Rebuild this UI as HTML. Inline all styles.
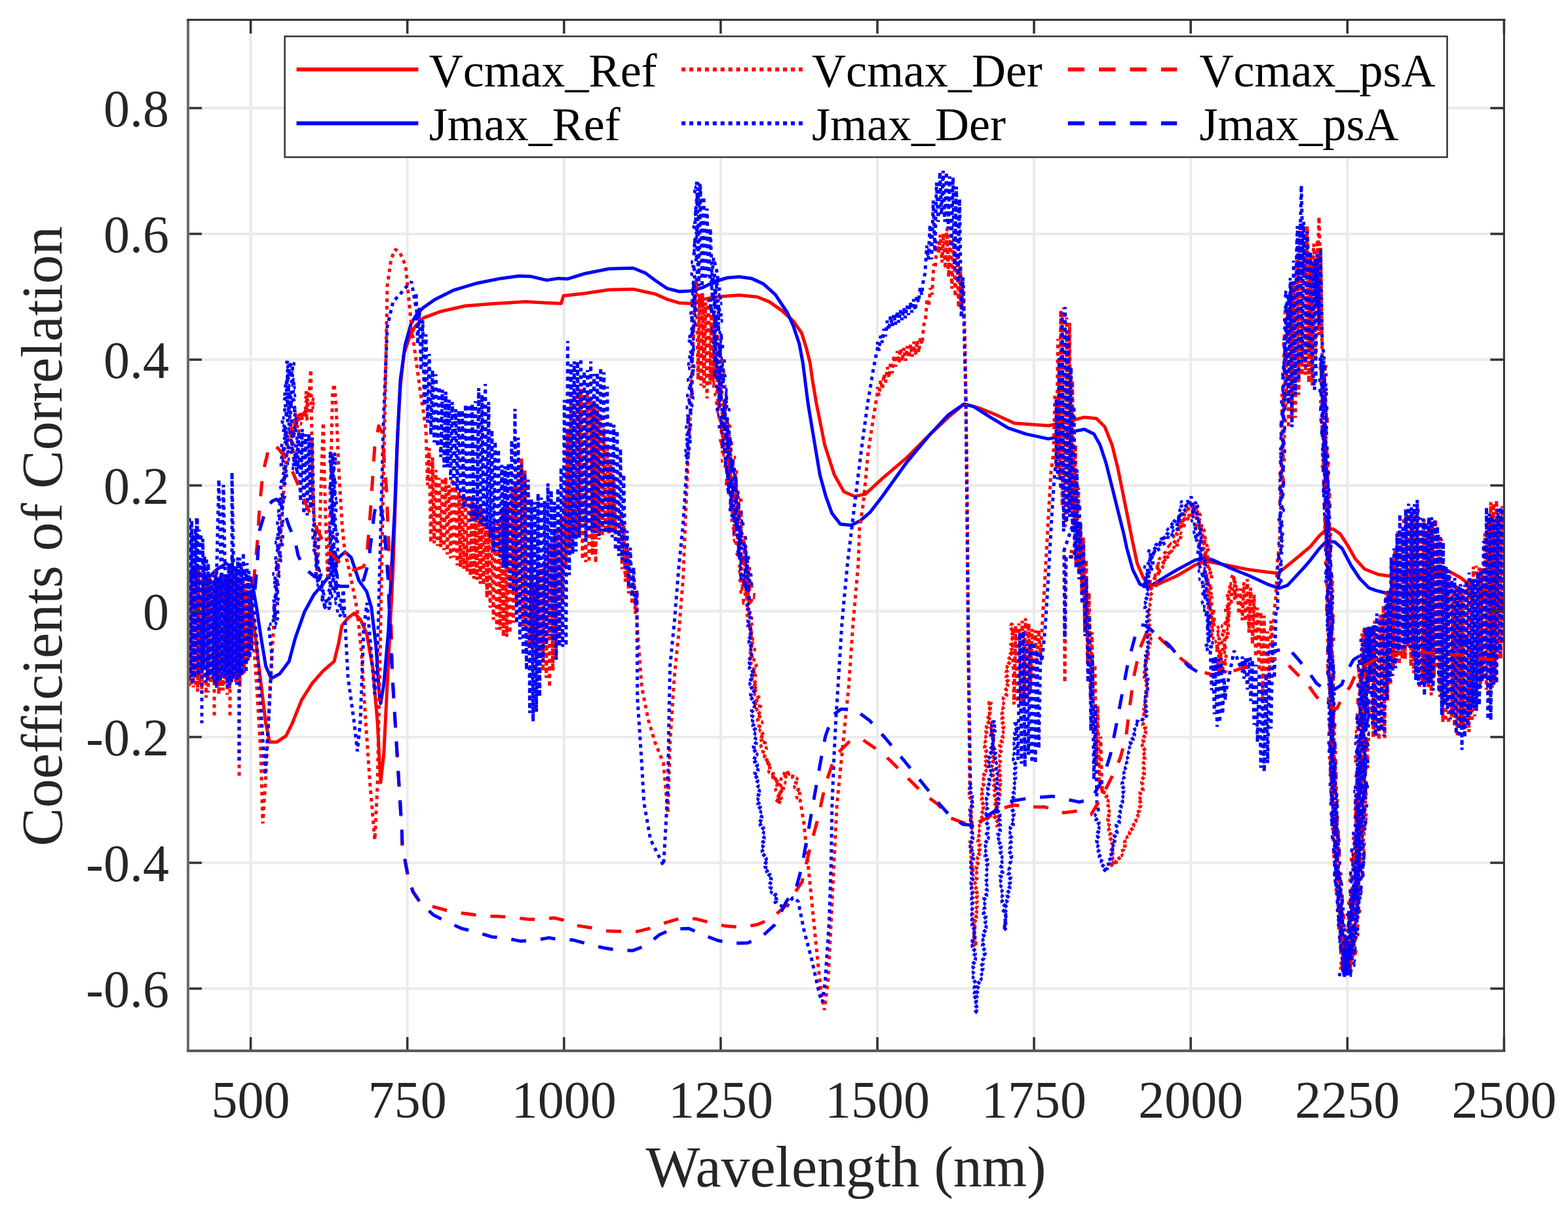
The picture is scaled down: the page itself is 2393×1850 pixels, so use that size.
<!DOCTYPE html>
<html><head><meta charset="utf-8"><title>Coefficients of Correlation</title><style>html,body{margin:0;padding:0;background:#fff;}body{width:2393px;height:1850px;overflow:hidden;}svg{display:block;}</style></head><body>
<svg width="2393" height="1850" viewBox="0 0 2393 1850">
<rect x="0" y="0" width="2393" height="1850" fill="#ffffff"/>
<path d="M382.6 30.3V1604.0M621.7 30.3V1604.0M860.8 30.3V1604.0M1099.9 30.3V1604.0M1339.0 30.3V1604.0M1578.1 30.3V1604.0M1817.2 30.3V1604.0M2056.3 30.3V1604.0M287.0 165.0H2295.4M287.0 357.0H2295.4M287.0 549.0H2295.4M287.0 741.0H2295.4M287.0 933.0H2295.4M287.0 1125.0H2295.4M287.0 1317.0H2295.4M287.0 1509.0H2295.4" stroke="#ebebeb" stroke-width="4" fill="none"/>
<defs><clipPath id="pc"><rect x="287" y="30.3" width="2008.4" height="1573.7"/></clipPath></defs>
<g clip-path="url(#pc)" fill="none" stroke-linejoin="round">
<path d="M287.0 905.0L300.0 930.0L315.0 900.0L330.0 915.0L345.0 905.0L360.0 900.0L372.0 905.0L384.3 926.6L391.4 985.9L398.5 1045.1L405.6 1104.4L411.5 1132.8L422.2 1132.8L436.4 1123.3L445.9 1104.4L460.1 1068.8L476.7 1042.7L493.3 1023.8L509.9 1009.6L517.0 981.1L521.7 955.1L531.2 943.2L540.7 936.1L550.1 945.6L559.6 966.9L569.1 1021.4L576.2 1104.4L579.8 1175.5L580.9 1194.4L585.7 1151.8L590.4 1057.0L595.2 962.2L599.9 867.4L603.5 760.0L607.0 660.0L611.0 590.0L616.5 540.0L623.8 518.0L633.0 499.0L645.8 485.3L673.3 475.2L709.9 467.0L746.5 463.9L801.5 460.6L838.1 462.4L856.4 463.3L860.0 451.4L893.0 447.8L929.7 442.3L966.3 441.4L1000.0 448.7L1018.3 456.9L1036.6 462.4L1054.9 463.3L1073.3 456.9L1091.6 453.3L1128.2 450.5L1155.7 453.3L1174.0 460.6L1192.3 473.4L1210.6 489.9L1223.4 508.2L1230.8 532.0L1236.3 554.0L1239.9 580.0L1245.8 615.0L1258.6 679.0L1273.3 724.8L1287.9 750.5L1304.4 757.8L1320.9 754.1L1346.5 730.3L1383.2 699.2L1419.8 662.6L1447.3 636.9L1471.1 616.8L1493.0 622.3L1520.5 633.3L1548.0 646.1L1600.0 649.7L1618.3 646.1L1636.6 641.5L1654.9 636.9L1673.3 638.8L1686.1 651.6L1697.1 679.0L1706.2 715.7L1713.6 752.3L1720.9 788.9L1728.2 825.6L1735.5 860.0L1745.2 882.4L1752.6 891.6L1763.6 893.4L1796.5 878.8L1824.0 862.3L1842.3 856.8L1869.8 862.3L1906.4 869.6L1933.9 873.3L1950.4 875.1L1979.7 851.3L2000.0 834.2L2013.7 817.7L2023.4 808.8L2034.3 807.4L2045.3 814.9L2057.7 834.2L2068.7 853.4L2082.4 868.5L2103.0 876.8L2127.5 880.4L2160.0 878.0L2190.0 874.0L2209.9 871.2L2228.2 881.3L2242.9 892.3L2260.0 900.0L2280.0 908.0L2295.0 915.0" stroke="#ff0000" stroke-width="5.0"/>
<path d="M287.0 880.0L300.0 870.0L315.0 885.0L330.0 870.0L345.0 860.0L360.0 870.0L372.0 875.0L384.3 886.4L391.4 926.6L398.5 974.0L405.6 1016.7L413.9 1035.6L426.9 1028.5L441.1 1009.6L450.6 974.0L464.8 933.7L479.0 907.7L493.3 891.1L507.5 872.1L517.0 850.8L526.4 842.5L535.9 850.8L547.8 886.4L559.6 902.9L566.7 926.6L573.8 985.9L578.6 1057.0L580.9 1073.6L585.7 1045.1L592.8 962.2L597.5 867.4L602.3 780.0L606.0 680.0L611.0 580.0L618.3 526.5L627.5 493.6L636.6 478.9L645.8 469.7L664.1 456.9L691.6 443.2L728.2 432.2L764.8 424.9L792.3 421.2L810.6 422.1L834.4 427.6L852.7 424.9L865.6 425.8L893.0 417.5L929.7 410.2L966.3 409.3L984.6 416.6L1000.0 428.0L1018.3 440.4L1036.6 445.0L1054.9 444.1L1073.3 438.6L1091.6 429.5L1109.9 424.0L1128.2 422.5L1146.5 424.9L1164.8 433.1L1183.2 449.6L1201.5 477.0L1210.6 497.2L1219.8 524.7L1225.3 554.0L1233.0 615.0L1242.1 669.9L1251.3 724.8L1260.4 757.8L1269.6 783.4L1282.4 799.9L1298.9 801.8L1313.6 794.4L1328.2 781.6L1346.5 757.8L1383.2 706.5L1419.8 662.6L1447.3 633.3L1471.1 616.8L1485.7 620.4L1511.4 636.9L1538.8 653.4L1566.3 662.6L1600.0 669.9L1618.3 666.2L1636.6 658.9L1654.9 655.2L1669.6 662.6L1678.8 679.0L1687.9 706.5L1697.1 743.2L1706.2 779.8L1715.4 816.4L1719.6 836.6L1728.8 869.6L1739.7 891.6L1752.6 897.1L1769.0 886.1L1796.5 869.6L1824.0 854.9L1838.6 851.3L1851.5 854.9L1878.9 867.8L1906.4 878.8L1933.9 891.6L1952.2 898.0L1965.0 893.4L1988.8 867.8L2000.0 854.8L2013.7 836.9L2024.7 825.9L2037.1 827.3L2048.1 836.9L2061.8 863.0L2075.5 883.6L2089.3 897.4L2100.0 901.4L2118.3 906.0L2150.0 905.0L2190.0 900.0L2219.0 894.1L2240.0 905.1L2260.0 912.0L2280.0 920.0L2295.0 928.0" stroke="#0000ff" stroke-width="5.0"/>
<path d="M287.0 861.3L288.6 1047.3L290.2 875.3L291.9 1045.6L293.5 867.4L295.1 1049.2L296.7 861.9L298.3 1048.0L299.9 875.1L301.6 1055.7L303.2 866.4L304.8 1045.6L306.4 870.6L308.0 1058.8L309.6 888.7L311.2 1042.7L312.9 899.3L314.5 1065.0L316.1 893.9L317.7 1057.0L319.3 880.7L320.9 1042.8L322.6 887.0L324.2 1043.2L325.8 877.2L327.4 1046.8L329.0 871.3L330.6 1051.4L332.3 879.2L333.9 1059.5L335.5 879.4L337.1 1054.1L338.7 877.4L340.4 1053.9L342.0 874.9L343.6 1044.1L345.2 886.2L346.8 1060.5L348.4 880.9L350.1 1053.0L351.7 867.5L353.3 1040.0L354.9 866.9L356.5 1034.8L358.1 878.0L359.8 1041.1L361.4 879.7L363.0 1039.3L364.6 882.2L366.2 1048.4L367.8 860.0L369.4 1032.2L371.1 883.0L372.7 1027.6L374.3 891.0L375.9 1014.0L377.5 882.7L379.1 1005.2L380.8 901.3L382.4 988.0L384.0 900.9L384.0 940.0L392.0 1050.0L398.0 1150.0L401.0 1257.0L406.0 1180.0L412.0 1050.0L418.0 950.0L424.0 880.0L430.0 790.0L436.0 706.0L440.0 680.0L445.0 640.0L448.0 700.0L443.2 658.6L457.8 658.5L442.5 652.4L457.6 652.3L446.5 647.1L460.9 646.9L446.7 641.0L460.2 640.6L448.4 635.2L461.2 634.7L451.0 629.6L450.6 636.1L466.8 629.8L453.4 641.4L468.6 635.8L468.6 640.7L459.3 631.7L470.7 635.0L459.7 628.8L474.1 627.7L463.1 623.2L479.0 622.3L463.6 617.2L479.8 616.4L462.7 611.1L479.3 610.2L463.5 605.1L476.6 603.8L463.8 599.1L472.0 600.0L474.3 564.0L477.0 740.0L480.0 800.0L484.0 880.0L488.0 800.0L493.3 645.0L496.0 760.0L500.0 880.0L503.0 800.0L507.5 600.0L510.0 586.0L513.0 620.0L517.0 716.0L522.0 800.0L526.0 840.0L535.0 880.0L545.0 930.0L552.0 1000.0L558.0 1100.0L565.0 1200.0L572.0 1282.0L576.0 1200.0L580.0 1000.0L584.7 747.5L588.0 600.0L591.0 436.6L597.0 395.0L603.4 380.6L610.0 385.0L619.0 405.5L628.0 498.8L640.7 592.0L650.0 654.0L650.0 655.4L652.5 740.7L655.0 683.7L657.5 828.5L660.1 698.2L662.6 829.4L665.1 717.3L667.6 833.3L670.1 729.4L672.6 835.1L675.2 729.3L677.7 839.7L680.2 728.7L682.7 846.4L685.2 740.2L687.7 852.4L690.2 730.4L692.8 850.6L695.3 736.5L697.8 863.3L700.3 750.8L702.8 865.7L705.3 755.0L707.9 868.2L710.4 760.8L712.9 872.4L715.4 754.3L717.9 878.5L720.4 763.0L723.0 883.5L725.5 769.3L728.0 884.9L730.5 771.3L733.0 891.3L735.5 775.8L738.0 892.9L740.6 791.7L743.1 912.5L745.6 803.0L748.1 927.8L750.6 804.5L753.1 945.9L755.7 798.5L758.2 960.9L760.7 793.6L763.2 961.4L765.7 775.9L768.2 971.7L770.8 765.5L773.3 971.9L775.8 766.2L778.3 966.6L780.8 742.8L783.3 950.7L785.8 734.8L788.4 924.8L790.9 718.3L793.4 938.6L795.9 699.6L798.4 962.8L800.9 716.4L803.5 961.9L806.0 738.2L808.5 989.5L811.0 817.9L813.5 983.8L816.0 893.5L818.5 1004.5L821.1 878.0L823.6 1001.2L826.1 860.2L828.6 1024.3L831.1 858.5L833.6 1034.8L836.2 833.0L838.7 1049.1L841.2 827.8L843.7 1023.7L846.2 811.0L848.7 1005.9L851.2 811.8L853.8 975.8L856.3 791.7L858.8 921.9L861.3 762.0L863.8 865.0L866.3 654.5L868.9 838.0L871.4 608.4L873.9 817.1L876.4 597.7L878.9 820.6L881.4 592.8L884.0 821.0L886.5 593.6L889.0 854.0L891.5 611.8L894.0 858.1L896.5 596.4L899.0 858.7L901.6 612.7L904.1 847.7L906.6 611.7L909.1 859.4L911.6 625.2L914.1 823.7L916.7 638.7L919.2 817.8L921.7 654.3L924.2 811.8L926.7 683.1L929.2 814.2L931.8 701.1L934.3 803.9L936.8 730.2L939.3 815.5L941.8 755.4L944.3 840.8L946.8 783.0L949.4 868.8L951.9 802.2L954.4 887.9L956.9 835.4L959.4 905.9L961.9 853.7L964.5 922.5L967.0 881.7L969.5 936.8L972.0 903.5L972.0 950.0L979.4 1049.0L989.4 1098.8L999.3 1132.0L1012.6 1165.1L1019.3 1241.5L1022.6 1132.0L1029.2 1032.4L1035.9 966.0L1042.5 883.0L1045.8 800.0L1050.0 700.0L1054.0 620.0L1057.0 540.0L1060.0 470.0L1063.0 430.0L1063.0 432.0L1065.3 579.9L1067.6 448.3L1069.9 588.8L1072.1 447.2L1074.4 592.1L1076.7 461.6L1079.0 608.2L1081.3 458.1L1083.6 587.0L1085.9 467.6L1088.1 583.4L1090.4 474.2L1092.7 579.3L1095.0 509.7L1102.1 559.3L1086.0 563.1L1100.3 563.9L1083.8 567.7L1106.5 567.7L1084.2 572.1L1103.0 572.5L1090.3 575.9L1101.9 577.0L1090.8 580.3L1102.1 581.4L1087.7 585.1L1105.0 585.5L1087.2 589.5L1108.3 589.6L1091.0 593.6L1104.5 594.4L1091.5 597.9L1103.9 598.9L1089.7 602.5L1105.5 603.2L1093.8 606.6L1111.0 607.0L1092.2 611.3L1111.8 611.1L1088.8 616.1L1110.3 615.8L1094.5 619.9L1107.2 620.6L1095.1 624.2L1111.9 624.4L1093.7 628.8L1109.3 629.2L1097.8 632.8L1110.2 633.5L1095.6 637.5L1108.7 638.1L1097.2 641.7L1110.9 642.3L1096.5 646.2L1112.8 646.5L1096.0 650.7L1115.9 650.5L1098.4 654.9L1111.0 655.6L1098.9 659.2L1112.4 659.6L1097.6 664.1L1114.9 663.7L1100.0 668.2L1112.8 668.5L1097.6 673.0L1117.2 672.3L1099.2 677.2L1118.5 676.5L1098.2 681.8L1114.3 681.6L1103.6 685.4L1118.1 685.5L1100.6 690.3L1119.0 689.8L1102.6 694.5L1118.2 694.4L1105.2 698.5L1122.9 698.1L1100.5 703.7L1120.9 702.9L1104.9 707.5L1118.9 707.6L1104.6 712.0L1120.2 711.9L1105.0 716.4L1121.3 716.1L1106.8 720.5L1126.1 719.9L1108.6 724.7L1124.4 724.6L1109.2 729.1L1124.7 729.0L1105.9 734.0L1125.4 733.3L1105.9 738.5L1125.5 737.8L1110.2 742.3L1127.8 741.9L1110.5 746.7L1128.7 746.2L1112.7 750.8L1124.6 751.2L1112.4 755.3L1125.7 755.5L1114.3 759.5L1130.1 759.3L1111.8 764.3L1133.0 763.3L1112.5 768.6L1131.1 768.1L1115.5 772.6L1131.2 772.5L1116.6 776.9L1129.2 777.2L1115.4 781.3L1133.6 781.3L1117.6 785.5L1134.9 785.6L1116.5 790.0L1132.3 790.3L1114.8 794.7L1130.8 794.9L1119.4 798.5L1133.4 799.1L1117.1 803.2L1133.5 803.5L1115.4 807.9L1133.0 808.0L1119.7 811.8L1136.1 812.0L1118.1 816.4L1135.1 816.6L1122.8 820.3L1139.1 820.5L1118.9 825.2L1138.4 825.1L1118.6 829.6L1137.6 829.4L1122.5 833.9L1139.0 833.6L1125.4 837.9L1142.0 837.6L1126.5 842.1L1137.3 842.7L1121.1 847.4L1140.6 846.7L1127.2 850.9L1144.4 850.6L1127.6 855.3L1142.0 855.4L1129.5 859.5L1140.4 860.1L1126.8 864.3L1145.0 863.8L1130.0 868.3L1146.1 868.1L1126.8 873.0L1146.1 872.9L1125.1 877.6L1145.2 877.4L1132.5 881.1L1142.7 882.1L1126.8 886.3L1143.6 886.5L1131.6 890.1L1148.0 890.4L1128.8 894.9L1149.3 894.6L1130.6 899.1L1146.7 899.4L1128.7 903.8L1145.0 904.0L1133.8 907.6L1152.5 907.5L1134.8 911.9L1152.0 912.0L1132.4 916.6L1151.0 916.6L1132.7 921.0L1142.0 920.0L1145.8 919.7L1139.1 924.3L1145.7 927.7L1137.3 932.4L1147.8 935.6L1138.8 940.3L1148.4 943.5L1140.6 948.2L1149.7 951.5L1140.6 956.2L1150.6 959.4L1140.9 964.2L1151.4 967.4L1142.4 972.2L1149.7 975.6L1144.1 980.0L1152.4 983.4L1144.7 988.0L1152.8 991.3L1143.8 996.1L1151.4 999.5L1143.9 1004.1L1151.9 1007.5L1144.3 1012.1L1155.5 1015.2L1147.3 1019.9L1155.8 1023.2L1146.1 1028.0L1154.3 1031.4L1147.0 1036.0L1155.0 1039.3L1146.8 1044.0L1157.7 1047.1L1147.3 1052.3L1156.3 1055.1L1150.8 1059.9L1159.4 1062.8L1150.8 1068.0L1158.9 1070.9L1150.9 1076.1L1162.4 1078.5L1154.0 1083.7L1160.9 1086.8L1153.8 1091.8L1162.9 1094.6L1154.9 1099.7L1164.3 1102.5L1156.9 1107.5L1163.7 1110.6L1158.9 1115.3L1166.4 1118.3L1158.0 1123.6L1167.5 1126.2L1159.2 1131.5L1169.1 1134.0L1160.0 1139.5L1170.8 1141.9L1163.2 1147.1L1170.2 1150.1L1165.7 1155.4L1172.0 1157.2L1166.0 1163.9L1177.7 1163.5L1169.3 1171.2L1178.1 1172.0L1172.5 1178.5L1181.1 1179.4L1175.3 1187.0L1186.2 1185.0L1179.9 1193.6L1190.2 1192.0L1185.0 1199.8L1194.0 1201.7L1182.6 1205.7L1191.8 1209.7L1184.5 1213.7L1193.5 1217.7L1183.7 1221.7L1192.4 1225.7L1192.8 1226.3L1183.6 1220.8L1193.4 1218.3L1187.5 1213.3L1196.0 1210.6L1188.5 1205.4L1198.0 1202.8L1189.5 1197.5L1199.3 1194.9L1190.5 1189.5L1200.3 1187.0L1193.6 1179.3L1203.4 1184.0L1200.8 1175.3L1203.7 1181.9L1210.4 1180.8L1209.3 1187.6L1217.6 1187.9L1211.3 1193.6L1218.0 1196.0L1211.5 1201.8L1219.7 1203.8L1214.3 1209.3L1221.9 1211.5L1215.0 1217.4L1223.4 1219.4L1221.1 1221.7L1227.0 1257.3L1231.4 1301.7L1235.9 1346.1L1241.8 1405.3L1247.7 1464.6L1253.6 1517.9L1258.1 1541.6L1264.0 1494.2L1268.4 1405.3L1272.9 1316.5L1277.3 1227.7L1286.2 1138.8L1292.1 1079.6L1295.1 1050.0L1302.0 950.0L1309.9 860.0L1311.7 807.0L1317.2 770.6L1320.9 734.0L1324.4 694.2L1333.3 635.0L1339.2 599.4L1339.0 590.8L1341.5 604.1L1344.1 580.0L1346.6 594.4L1349.1 570.6L1351.6 583.9L1354.2 560.3L1356.7 576.8L1359.2 552.1L1361.8 569.6L1364.3 542.2L1366.8 559.6L1369.3 535.9L1371.9 554.4L1374.4 531.9L1376.9 551.6L1379.5 531.0L1382.0 550.8L1384.5 528.2L1387.0 546.3L1389.6 525.9L1392.1 544.5L1394.6 521.4L1397.2 541.9L1399.7 519.4L1402.2 538.2L1404.7 514.8L1407.3 525.6L1409.8 495.4L1412.3 491.3L1414.8 455.7L1417.4 467.7L1419.9 439.5L1422.4 449.8L1425.0 402.8L1427.5 408.7L1430.0 368.4L1432.5 386.5L1435.1 358.2L1437.6 400.6L1440.1 356.2L1442.7 410.3L1445.2 348.4L1447.7 423.0L1450.2 358.2L1452.8 440.7L1455.3 363.7L1457.8 452.8L1460.4 386.3L1462.9 469.6L1465.4 406.5L1467.9 472.7L1470.5 436.0L1473.0 536.1L1473.0 540.0L1476.0 750.0L1478.0 1000.0L1480.0 1200.0L1482.7 1199.9L1478.7 1204.0L1482.2 1207.9L1478.5 1212.0L1483.4 1215.9L1477.7 1220.1L1483.9 1223.9L1479.2 1228.0L1483.1 1231.9L1479.5 1236.0L1482.9 1239.9L1478.7 1244.0L1482.7 1247.9L1479.6 1252.0L1484.3 1255.9L1479.1 1260.0L1483.6 1263.9L1479.2 1268.0L1485.0 1271.9L1480.6 1276.0L1485.2 1279.9L1479.4 1284.0L1484.5 1287.9L1480.7 1292.0L1486.0 1295.9L1480.6 1300.0L1484.4 1303.9L1481.3 1308.0L1486.2 1311.9L1480.4 1316.0L1486.3 1319.9L1480.4 1324.0L1485.9 1327.9L1480.1 1332.0L1485.8 1335.9L1481.2 1340.0L1487.0 1343.9L1481.2 1348.0L1487.3 1351.8L1481.6 1356.0L1487.2 1359.9L1482.9 1364.0L1486.4 1367.9L1482.7 1372.0L1486.4 1375.9L1483.0 1380.0L1486.7 1383.9L1483.2 1388.0L1488.0 1391.8L1483.3 1396.0L1487.7 1399.9L1483.8 1404.0L1487.8 1407.9L1482.6 1412.0L1488.8 1415.8L1483.5 1420.0L1488.1 1423.9L1483.5 1428.0L1488.3 1431.9L1484.5 1436.0L1490.3 1439.8L1484.2 1444.0L1484.5 1444.0L1490.1 1440.2L1484.2 1436.0L1490.6 1432.2L1485.9 1428.0L1489.4 1424.2L1486.0 1420.0L1490.2 1416.2L1486.6 1412.1L1491.9 1408.3L1485.5 1404.0L1490.9 1400.2L1486.3 1396.0L1491.4 1392.2L1486.1 1388.0L1491.9 1384.2L1487.8 1380.1L1491.8 1376.2L1487.5 1372.1L1492.1 1368.2L1487.7 1364.1L1493.8 1360.3L1488.5 1356.1L1492.7 1352.3L1487.5 1348.0L1493.7 1344.3L1489.8 1340.1L1493.0 1336.3L1490.0 1332.1L1494.6 1328.3L1488.9 1324.1L1494.5 1320.3L1490.8 1316.1L1494.7 1312.3L1489.2 1308.1L1495.3 1304.3L1489.6 1300.1L1496.5 1296.5L1492.3 1292.1L1496.9 1288.5L1491.6 1284.0L1497.2 1280.5L1493.1 1276.1L1498.2 1272.6L1494.1 1268.2L1498.4 1264.6L1494.1 1260.2L1500.2 1256.7L1493.9 1252.1L1499.5 1248.6L1495.4 1244.2L1500.0 1240.6L1495.3 1236.2L1502.1 1232.8L1497.2 1228.3L1502.3 1224.8L1497.3 1220.3L1501.9 1216.6L1497.5 1212.4L1503.2 1208.7L1497.9 1204.4L1503.7 1200.7L1500.0 1196.5L1503.7 1192.7L1500.4 1188.5L1505.5 1184.8L1499.1 1180.4L1505.7 1176.8L1500.8 1172.5L1504.6 1168.7L1500.1 1164.4L1506.9 1160.8L1502.2 1156.5L1506.5 1152.8L1502.7 1148.6L1507.5 1144.8L1501.8 1140.5L1506.7 1136.8L1502.8 1132.5L1508.0 1128.8L1503.8 1124.6L1509.2 1120.9L1504.0 1116.5L1508.5 1112.9L1504.6 1108.5L1510.4 1105.1L1506.1 1100.6L1510.3 1097.0L1505.2 1092.5L1511.8 1089.1L1507.1 1084.7L1512.3 1081.1L1508.6 1076.8L1512.5 1073.1L1513.1 1068.9L1508.6 1073.2L1513.3 1076.9L1509.7 1081.1L1513.3 1085.0L1509.3 1089.2L1514.1 1092.9L1509.1 1097.2L1515.8 1100.8L1511.2 1105.1L1514.9 1108.9L1510.4 1113.1L1515.2 1116.9L1511.9 1121.1L1517.1 1124.8L1511.4 1129.1L1516.5 1132.9L1511.3 1137.1L1517.6 1140.8L1513.0 1145.0L1516.5 1148.9L1512.8 1153.0L1517.6 1156.8L1513.1 1161.0L1518.6 1164.8L1513.0 1169.1L1519.5 1172.8L1514.6 1177.0L1518.6 1180.8L1514.4 1185.0L1519.9 1188.8L1515.0 1193.0L1518.9 1196.8L1514.9 1201.0L1519.7 1204.8L1515.6 1209.0L1519.7 1212.8L1514.6 1217.0L1520.5 1220.8L1515.1 1225.0L1521.0 1228.8L1517.2 1232.9L1522.3 1236.7L1515.9 1241.0L1522.6 1244.7L1516.0 1249.0L1522.7 1252.7L1518.0 1256.9L1522.3 1260.7L1522.0 1261.3L1518.2 1257.0L1522.3 1253.3L1518.9 1249.0L1524.9 1245.5L1519.8 1241.1L1525.1 1237.5L1520.0 1233.1L1525.0 1229.4L1519.6 1225.0L1526.8 1221.6L1521.1 1217.1L1526.8 1213.5L1522.5 1209.2L1526.6 1205.5L1521.5 1201.1L1527.7 1197.5L1522.8 1193.2L1528.5 1189.5L1524.2 1185.3L1528.6 1181.5L1523.7 1177.3L1529.5 1173.6L1524.8 1169.3L1530.1 1165.6L1525.4 1161.3L1528.9 1157.5L1524.7 1153.3L1530.3 1149.6L1525.8 1145.3L1529.6 1141.5L1524.9 1137.3L1530.2 1133.5L1525.9 1129.3L1531.4 1125.6L1526.6 1121.3L1531.7 1117.6L1526.8 1113.3L1532.9 1109.6L1527.9 1105.4L1532.8 1101.6L1528.4 1097.3L1532.9 1093.7L1528.2 1089.3L1533.5 1085.8L1529.8 1081.4L1535.2 1077.9L1531.1 1073.5L1535.4 1069.9L1530.0 1065.3L1537.3 1062.0L1532.7 1057.5L1536.5 1053.9L1533.1 1049.5L1538.8 1046.2L1532.8 1041.4L1539.7 1038.2L1534.8 1033.6L1539.1 1030.1L1534.8 1025.5L1541.2 1022.3L1536.2 1017.6L1542.8 1014.4L1537.0 1009.7L1541.7 1006.2L1537.7 1001.7L1543.2 998.3L1538.7 993.9L1545.2 990.4L1540.5 986.0L1544.1 982.3L1541.2 978.0L1545.7 974.4L1541.5 970.0L1546.5 966.4L1541.3 962.0L1546.3 958.4L1542.1 954.0L1545.0 952.0L1545.0 957.8L1547.5 1075.4L1550.0 955.2L1552.5 1072.3L1555.0 951.6L1557.5 1075.6L1560.0 947.5L1562.5 1077.5L1565.0 943.5L1567.5 1067.5L1570.0 951.7L1572.5 1054.1L1575.0 959.8L1577.5 1037.3L1580.0 962.1L1582.5 1014.7L1585.0 961.2L1588.0 1000.0L1592.0 930.0L1596.0 860.0L1600.0 790.0L1604.0 720.0L1608.0 690.0L1610.0 601.0L1612.2 717.2L1614.5 517.3L1616.7 729.4L1618.9 473.5L1621.2 772.2L1623.4 469.4L1625.6 804.4L1627.9 484.4L1630.1 783.5L1632.4 492.7L1634.6 779.1L1636.8 581.2L1639.1 804.3L1641.3 678.9L1643.5 829.1L1645.8 743.7L1648.0 844.1L1624.0 840.0L1625.0 1042.0L1627.0 850.0L1640.0 850.0L1640.0 780.7L1642.2 863.1L1644.4 790.6L1646.6 869.8L1648.8 796.7L1651.1 906.8L1653.3 819.8L1655.5 965.4L1657.7 854.3L1659.9 1012.2L1662.1 904.7L1664.3 1067.9L1666.5 964.7L1668.7 1119.8L1670.9 1014.3L1673.2 1165.2L1675.4 1077.5L1677.6 1202.4L1679.8 1124.3L1682.0 1212.3L1683.4 1199.5L1680.6 1204.7L1686.2 1207.0L1683.7 1212.1L1689.9 1214.2L1685.6 1219.9L1692.1 1222.5L1687.8 1226.9L1692.0 1230.5L1688.7 1234.9L1693.6 1238.4L1688.6 1242.9L1694.7 1246.3L1689.6 1250.8L1695.3 1254.3L1691.6 1258.7L1696.9 1262.2L1691.0 1266.8L1696.7 1270.2L1693.4 1274.6L1697.8 1278.3L1693.1 1282.6L1698.8 1286.2L1693.4 1290.6L1698.7 1294.2L1693.9 1298.5L1698.9 1302.2L1695.5 1306.5L1698.7 1310.3L1694.1 1314.6L1700.9 1318.2L1695.9 1322.5L1697.1 1319.1L1704.1 1319.2L1702.9 1313.7L1709.1 1312.6L1706.0 1306.2L1713.1 1305.7L1709.5 1299.3L1715.2 1297.5L1712.9 1292.1L1719.7 1290.8L1715.6 1284.5L1722.1 1283.1L1719.5 1277.5L1726.0 1275.9L1723.2 1270.5L1729.3 1268.6L1725.0 1262.6L1730.7 1260.6L1728.4 1255.3L1734.3 1253.4L1732.0 1248.3L1737.4 1245.8L1732.7 1240.2L1739.6 1238.1L1736.7 1233.0L1741.7 1230.4L1737.6 1225.0L1744.9 1222.2L1738.9 1217.8L1743.6 1214.1L1738.9 1209.8L1745.3 1206.2L1741.3 1201.9L1744.8 1198.2L1741.9 1193.9L1746.5 1190.2L1742.3 1185.9L1747.4 1182.3L1742.8 1178.0L1747.0 1174.1L1742.3 1170.0L1746.2 1166.1L1743.4 1162.0L1748.2 1158.2L1741.6 1154.0L1746.8 1150.1L1742.3 1146.0L1748.8 1142.2L1742.2 1138.0L1748.8 1134.2L1743.6 1130.0L1748.7 1126.2L1743.5 1122.0L1749.4 1118.2L1743.2 1114.0L1749.4 1110.2L1743.1 1106.0L1748.7 1102.2L1743.7 1098.0L1748.3 1094.2L1745.0 1090.1L1750.3 1086.2L1744.8 1082.0L1750.1 1078.2L1744.7 1074.0L1749.4 1070.2L1745.0 1066.0L1751.1 1062.2L1745.8 1058.1L1750.1 1054.2L1746.4 1050.1L1750.1 1046.2L1745.3 1042.0L1751.4 1038.2L1745.2 1034.0L1751.6 1030.2L1745.5 1026.0L1750.9 1022.2L1747.4 1018.1L1751.2 1014.2L1747.3 1010.1L1753.1 1006.3L1747.9 1002.1L1752.7 999.4L1750.9 994.1L1754.6 991.0L1750.8 986.8L1756.2 983.0L1751.3 978.8L1757.2 975.1L1750.9 970.8L1757.7 967.1L1751.9 962.8L1756.7 959.0L1753.3 954.9L1758.1 951.1L1753.6 946.9L1757.0 943.0L1752.9 938.8L1757.6 935.0L1753.4 930.8L1758.2 927.2L1754.5 922.8L1758.6 919.2L1755.4 914.8L1760.1 911.3L1756.5 906.9L1760.5 903.3L1756.6 898.9L1759.6 895.6L1754.7 894.0L1766.1 894.6L1754.5 887.6L1766.3 888.3L1759.3 882.9L1767.5 882.4L1761.7 877.3L1769.3 876.7L1763.4 871.6L1773.5 871.8L1761.5 864.6L1776.2 866.3L1766.2 859.9L1776.8 860.2L1768.1 851.7L1778.7 856.6L1774.2 849.0L1784.4 853.6L1776.1 842.7L1785.6 846.8L1781.9 839.8L1789.4 842.1L1782.5 832.5L1793.2 836.2L1785.2 829.7L1799.4 832.3L1790.2 825.2L1799.1 825.7L1790.5 818.8L1803.7 821.1L1794.1 813.8L1803.1 814.3L1796.1 808.2L1804.5 808.4L1796.5 801.9L1810.2 804.3L1799.9 796.8L1809.1 798.0L1802.2 790.1L1815.1 794.6L1805.6 785.2L1816.6 788.5L1808.1 779.6L1821.0 784.2L1812.2 775.2L1823.8 778.9L1816.9 771.0L1816.7 774.4L1829.4 773.6L1817.4 780.4L1829.1 780.0L1818.5 786.4L1833.2 785.0L1823.9 791.0L1831.8 791.7L1824.8 797.0L1832.9 797.7L1824.1 803.5L1837.6 802.5L1826.9 808.9L1840.9 807.7L1829.5 814.4L1838.9 815.1L1831.8 819.5L1840.8 820.8L1829.5 826.1L1843.2 826.4L1834.4 831.3L1843.6 832.5L1835.6 837.1L1845.6 838.2L1836.4 843.1L1844.7 844.5L1834.9 848.8L1848.6 850.7L1835.5 854.7L1846.4 856.9L1835.8 860.7L1846.8 862.8L1839.4 866.5L1847.3 868.8L1836.6 872.7L1849.5 874.7L1839.4 878.5L1851.0 880.6L1836.9 884.7L1848.8 886.8L1836.7 890.8L1849.2 892.7L1841.5 896.4L1850.9 898.6L1838.2 902.7L1851.8 904.6L1840.2 908.5L1851.7 910.6L1841.9 914.4L1851.3 916.7L1841.8 920.4L1853.0 922.5L1839.7 926.6L1851.3 928.3L1844.1 932.8L1856.5 933.4L1843.3 939.0L1853.6 940.1L1845.5 944.7L1857.5 945.4L1844.5 951.1L1856.0 951.8L1845.7 956.9L1860.4 957.1L1849.8 962.2L1860.5 963.2L1848.4 968.6L1860.3 969.3L1850.1 974.4L1862.9 974.9L1854.3 979.7L1862.8 981.1L1853.8 985.9L1863.3 987.1L1852.5 992.3L1865.0 993.3L1856.7 997.1L1867.3 999.1L1855.8 1003.2L1866.6 1005.2L1857.4 1009.1L1868.0 1011.1L1855.2 1015.4L1866.6 1017.2L1855.8 1021.3L1871.3 1022.8L1870.4 1026.1L1857.2 1021.8L1869.6 1020.0L1857.1 1015.7L1871.9 1014.2L1859.0 1009.9L1871.1 1008.1L1861.8 1004.1L1872.8 1002.2L1859.9 997.9L1870.1 995.9L1862.6 992.2L1873.3 990.2L1863.6 986.2L1871.9 984.0L1864.3 980.3L1872.0 978.0L1865.3 974.3L1874.4 972.2L1864.0 968.2L1876.1 966.4L1865.5 962.3L1874.3 960.4L1863.5 955.6L1877.7 954.8L1865.6 949.9L1878.9 949.0L1868.2 944.2L1879.4 943.0L1869.2 938.3L1880.6 937.1L1867.8 932.0L1878.5 930.7L1868.8 926.1L1879.9 924.8L1873.5 920.8L1880.7 918.9L1871.8 914.4L1885.3 913.5L1871.0 908.2L1883.0 907.1L1874.3 902.7L1887.6 901.8L1873.1 896.4L1888.0 895.7L1877.1 891.0L1886.4 889.4L1878.5 885.1L1887.3 883.5L1878.2 879.0L1883.4 879.3L1883.0 880.3L1885.6 914.0L1888.1 898.5L1890.7 937.5L1893.3 898.2L1895.9 946.9L1898.4 888.7L1901.0 948.8L1903.6 883.8L1906.1 965.7L1908.7 897.1L1911.3 983.1L1913.9 907.6L1916.4 1002.8L1919.0 927.3L1921.6 1024.2L1924.1 934.0L1926.7 1072.2L1929.3 939.8L1931.9 1118.6L1934.4 963.7L1937.0 1043.0L1939.6 947.4L1942.1 981.0L1944.7 932.7L1947.3 910.0L1949.9 851.5L1952.4 836.9L1955.0 767.7L1952.3 765.1L1958.6 762.3L1953.0 759.1L1958.3 756.3L1953.2 753.1L1957.5 750.3L1952.7 747.1L1958.0 744.3L1952.8 741.1L1960.0 738.3L1953.7 735.2L1959.8 732.3L1953.6 729.2L1960.4 726.3L1951.9 723.1L1958.8 720.3L1951.7 717.1L1960.5 714.3L1954.2 711.2L1959.7 708.3L1952.5 705.1L1961.4 702.3L1954.2 699.1L1959.6 696.3L1952.6 693.1L1961.9 690.4L1954.8 687.2L1959.4 684.3L1953.0 681.1L1960.3 678.3L1954.3 675.1L1962.2 672.4L1953.4 669.1L1961.7 666.4L1953.2 663.1L1962.1 660.4L1953.6 657.1L1962.0 654.4L1954.4 651.1L1960.5 648.3L1953.6 645.1L1963.2 642.4L1955.5 639.2L1962.5 636.4L1956.7 633.2L1962.3 630.4L1955.0 627.1L1961.9 624.3L1955.9 621.2L1963.7 618.4L1956.8 615.2L1962.7 612.4L1957.2 609.2L1962.7 606.4L1955.0 603.1L1963.6 600.4L1957.8 597.2L1964.6 594.4L1956.1 591.1L1963.8 588.4L1957.4 585.2L1963.3 582.4L1958.0 579.2L1964.5 576.4L1958.6 573.2L1965.7 570.5L1958.6 567.2L1964.9 564.4L1957.4 561.2L1964.3 558.4L1958.5 555.2L1964.8 552.4L1958.6 549.2L1966.6 546.5L1957.9 543.2L1965.5 540.4L1958.0 537.2L1965.6 534.4L1959.8 531.2L1964.4 528.4L1957.5 525.1L1967.1 522.5L1960.4 519.2L1966.6 516.5L1958.5 513.2L1967.6 510.5L1960.9 507.2L1965.6 504.4L1960.1 501.2L1967.2 498.5L1961.3 495.3L1967.7 492.5L1959.5 489.2L1967.2 486.5L1959.4 483.2L1967.2 480.5L1959.6 477.2L1967.4 474.5L1961.1 471.2L1964.4 470.0L1964.0 483.9L1966.6 653.2L1969.1 458.5L1971.7 641.5L1974.3 434.4L1976.9 637.8L1979.4 396.6L1982.0 602.7L1984.6 348.2L1987.1 573.0L1989.7 350.6L1992.3 571.9L1994.9 364.4L1997.4 584.0L2000.0 388.4L2002.6 588.6L2005.1 389.8L2007.7 548.0L2010.3 366.5L2012.9 511.6L2015.4 378.2L2018.0 554.6L2024.6 559.9L2012.9 561.8L2024.1 563.1L2014.2 564.9L2023.6 566.3L2012.2 568.2L2023.3 569.5L2015.9 571.3L2023.2 572.7L2015.5 574.5L2023.6 575.9L2015.5 577.7L2022.7 579.1L2015.4 580.9L2023.7 582.3L2014.4 584.1L2023.3 585.5L2016.6 587.3L2023.4 588.7L2014.7 590.5L2024.2 591.9L2014.0 593.7L2026.1 595.0L2015.4 596.9L2023.2 598.3L2014.1 600.1L2026.0 601.4L2015.6 603.3L2025.7 604.6L2016.1 606.5L2026.8 607.8L2013.9 609.7L2026.4 611.0L2013.5 613.0L2024.1 614.3L2015.3 616.1L2026.3 617.4L2014.3 619.3L2025.0 620.7L2017.2 622.5L2026.0 623.8L2017.4 625.7L2026.4 627.0L2017.9 628.8L2025.5 630.3L2016.0 632.1L2024.1 633.5L2016.1 635.3L2025.8 636.7L2016.6 638.5L2027.6 639.8L2014.6 641.7L2027.6 643.0L2017.3 644.9L2024.1 646.3L2016.8 648.1L2024.5 649.5L2015.5 651.3L2025.2 652.7L2018.0 654.5L2025.4 655.9L2016.9 657.7L2027.4 659.0L2016.8 660.9L2025.6 662.3L2016.0 664.1L2024.6 665.5L2018.0 667.3L2027.4 668.6L2015.8 670.5L2025.0 671.9L2018.8 673.6L2026.8 675.0L2016.4 676.9L2024.8 678.3L2017.4 680.1L2026.0 681.4L2018.9 683.3L2025.7 684.6L2018.2 686.5L2027.0 687.8L2019.0 689.7L2027.8 691.0L2015.9 693.0L2028.1 694.2L2019.4 696.1L2028.1 697.4L2017.2 699.3L2025.5 700.7L2018.3 702.5L2028.3 703.8L2016.1 705.8L2029.6 706.9L2017.8 708.9L2028.3 710.2L2016.2 712.2L2026.8 713.4L2018.2 715.3L2026.3 716.6L2017.2 718.5L2028.9 719.8L2019.7 721.7L2027.1 723.0L2018.5 724.9L2029.5 726.1L2020.2 728.0L2027.8 729.4L2018.8 731.3L2027.7 732.6L2017.3 734.5L2029.7 735.7L2017.1 737.8L2029.5 738.9L2018.4 740.9L2028.1 742.2L2019.2 744.1L2028.8 745.4L2019.4 747.3L2027.4 748.6L2018.0 750.5L2027.8 751.8L2019.7 753.7L2031.2 754.9L2019.6 756.9L2031.1 758.1L2020.8 760.0L2029.5 761.4L2020.4 763.3L2029.0 764.6L2020.5 766.5L2029.6 767.8L2018.7 769.7L2031.9 770.9L2021.9 772.8L2030.7 774.1L2020.2 776.1L2029.8 777.4L2022.3 779.2L2029.7 780.6L2021.3 782.4L2029.8 783.8L2020.2 785.7L2029.9 787.0L2021.6 788.8L2029.6 790.2L2018.8 792.1L2030.2 793.4L2019.0 795.3L2029.4 796.6L2020.4 798.5L2031.1 799.7L2020.3 801.7L2031.1 802.9L2019.7 804.9L2031.5 806.1L2023.2 808.0L2031.9 809.3L2021.0 811.3L2030.2 812.6L2020.6 814.5L2032.8 815.7L2022.6 817.6L2030.0 819.0L2022.6 820.8L2031.9 822.1L2022.1 824.0L2029.9 825.4L2022.1 827.2L2032.0 828.5L2021.7 830.4L2031.2 831.8L2020.9 833.7L2032.7 834.9L2023.2 836.8L2031.4 838.2L2020.5 840.1L2031.0 841.4L2022.6 843.2L2031.4 844.6L2022.1 846.4L2033.6 847.7L2024.2 849.6L2031.1 851.0L2024.5 852.8L2031.0 854.2L2022.7 856.0L2032.6 857.3L2021.0 859.3L2032.5 860.5L2022.9 862.4L2030.8 863.8L2024.2 865.6L2032.1 866.9L2024.2 868.8L2034.2 870.1L2023.6 872.0L2031.6 873.4L2023.2 875.2L2031.8 876.6L2024.8 878.4L2033.7 879.7L2025.3 881.6L2034.5 882.9L2023.9 884.8L2031.7 886.2L2023.0 888.0L2035.5 889.3L2022.8 891.2L2035.1 892.5L2022.1 894.5L2032.8 895.7L2024.1 897.6L2034.9 898.9L2024.5 900.7L2035.9 902.1L2024.5 903.9L2032.0 905.4L2025.9 907.1L2033.7 908.6L2026.3 910.3L2034.6 911.8L2022.3 913.6L2036.0 914.9L2022.3 916.8L2033.2 918.2L2025.8 919.9L2032.5 921.4L2022.7 923.2L2032.3 924.6L2026.4 926.3L2035.1 927.7L2022.7 929.6L2034.6 931.0L2026.5 932.7L2032.5 934.2L2023.4 936.0L2035.3 937.3L2025.6 939.1L2036.6 940.5L2025.8 942.3L2033.2 943.8L2022.9 945.6L2032.9 947.0L2025.5 948.7L2033.4 950.2L2024.4 951.9L2034.8 953.4L2026.1 955.1L2035.4 956.5L2026.8 958.3L2037.0 959.7L2024.0 961.5L2033.8 963.0L2024.8 964.7L2034.1 966.2L2025.0 967.9L2034.3 969.4L2026.6 971.1L2035.1 972.6L2027.2 974.3L2037.3 975.7L2024.2 977.5L2034.1 979.0L2025.1 980.7L2034.0 982.2L2027.0 983.9L2034.9 985.4L2024.7 987.1L2033.6 988.6L2023.8 990.4L2034.5 991.8L2027.1 993.5L2035.5 995.0L2024.1 996.8L2035.3 998.2L2025.7 999.9L2037.7 1001.3L2025.8 1003.1L2035.1 1004.6L2027.3 1006.3L2035.9 1007.7L2025.5 1009.5L2036.2 1010.9L2027.3 1012.7L2033.8 1014.2L2024.2 1016.0L2036.7 1017.3L2024.7 1019.1L2037.4 1020.5L2026.5 1022.3L2034.7 1023.8L2024.3 1025.5L2037.8 1026.9L2028.2 1028.7L2036.7 1030.1L2026.4 1031.9L2034.2 1033.4L2026.2 1035.1L2036.9 1036.5L2026.7 1038.3L2035.3 1039.8L2024.9 1041.5L2037.1 1042.9L2027.5 1044.7L2037.6 1046.1L2024.9 1047.9L2036.0 1049.4L2026.4 1051.1L2034.8 1052.6L2028.3 1054.3L2038.1 1055.7L2024.9 1057.5L2038.5 1058.9L2028.4 1060.7L2037.6 1062.1L2027.4 1063.9L2035.6 1065.4L2025.3 1067.1L2035.1 1068.6L2028.8 1070.3L2036.2 1071.8L2028.6 1073.5L2036.5 1074.9L2026.6 1076.7L2037.1 1078.1L2025.4 1079.9L2037.0 1081.3L2028.8 1083.1L2037.3 1084.5L2029.3 1086.3L2037.8 1087.7L2028.8 1089.5L2037.2 1090.9L2027.7 1092.7L2039.1 1094.1L2029.1 1095.9L2036.4 1097.4L2028.3 1099.1L2037.5 1100.5L2028.1 1102.3L2039.5 1103.7L2025.9 1105.5L2039.3 1106.9L2027.0 1108.7L2038.8 1110.1L2027.6 1111.9L2036.3 1113.4L2029.2 1115.1L2036.3 1116.6L2026.8 1118.3L2038.4 1119.7L2029.9 1121.5L2036.9 1122.9L2029.8 1124.7L2037.9 1126.1L2028.7 1127.9L2037.8 1129.3L2028.6 1131.2L2037.5 1132.5L2028.4 1134.4L2039.3 1135.6L2030.1 1137.5L2039.3 1138.8L2028.1 1140.8L2039.5 1142.0L2030.0 1143.9L2037.5 1145.3L2027.0 1147.2L2040.4 1148.4L2029.7 1150.3L2038.1 1151.7L2029.6 1153.5L2038.0 1154.9L2027.1 1156.8L2038.9 1158.0L2029.4 1160.0L2040.6 1161.2L2028.6 1163.2L2040.9 1164.4L2028.7 1166.4L2038.9 1167.6L2031.2 1169.5L2039.3 1170.8L2029.5 1172.8L2039.9 1174.0L2028.2 1176.0L2038.9 1177.2L2029.6 1179.2L2041.0 1180.4L2028.0 1182.4L2041.1 1183.6L2031.0 1185.5L2041.2 1186.8L2029.4 1188.8L2039.2 1190.0L2030.0 1192.0L2041.3 1193.2L2029.0 1195.2L2039.1 1196.4L2030.5 1198.3L2041.0 1199.6L2031.9 1201.5L2041.5 1202.8L2029.4 1204.8L2040.9 1206.0L2028.9 1208.0L2039.9 1209.2L2031.8 1211.1L2042.7 1212.3L2030.5 1214.4L2038.8 1215.7L2031.4 1217.5L2040.2 1218.8L2029.8 1220.8L2043.1 1221.9L2032.9 1223.9L2041.9 1225.2L2029.9 1227.2L2039.7 1228.4L2031.8 1230.3L2039.4 1231.7L2032.3 1233.5L2041.9 1234.8L2030.9 1236.8L2040.7 1238.0L2031.2 1239.9L2042.0 1241.2L2032.6 1243.1L2041.9 1244.4L2030.8 1246.5L2043.2 1247.4L2032.6 1249.6L2043.4 1250.6L2032.7 1252.8L2042.2 1253.9L2033.8 1255.9L2042.5 1257.1L2034.6 1259.1L2044.1 1260.2L2033.5 1262.3L2042.2 1263.5L2031.6 1265.6L2043.7 1266.6L2033.4 1268.8L2044.7 1269.8L2033.0 1272.0L2044.8 1273.0L2034.6 1275.1L2044.7 1276.2L2031.9 1278.5L2043.2 1279.5L2032.8 1281.6L2045.8 1282.5L2033.7 1284.8L2045.0 1285.8L2035.9 1287.9L2042.5 1289.1L2033.0 1291.2L2045.4 1292.2L2036.0 1294.3L2045.7 1295.4L2036.2 1297.5L2046.1 1298.6L2033.1 1300.8L2044.9 1301.8L2035.9 1303.9L2046.0 1305.0L2033.7 1307.2L2043.7 1308.3L2035.5 1310.3L2045.9 1311.4L2034.5 1313.6L2043.4 1314.7L2034.4 1316.8L2046.1 1317.8L2034.5 1320.0L2044.2 1321.1L2036.4 1323.1L2046.4 1324.1L2034.6 1326.5L2045.8 1327.3L2034.6 1329.7L2046.5 1330.5L2034.9 1332.9L2048.5 1333.6L2038.6 1335.8L2045.5 1337.0L2037.9 1339.1L2047.1 1340.1L2036.4 1342.4L2047.6 1343.3L2038.2 1345.5L2046.0 1346.6L2038.0 1348.7L2049.7 1349.5L2039.2 1351.8L2046.5 1352.9L2038.0 1355.1L2046.7 1356.1L2037.1 1358.4L2048.1 1359.3L2040.3 1361.4L2048.3 1362.4L2037.9 1364.7L2049.0 1365.6L2040.1 1367.8L2050.7 1368.7L2040.8 1371.0L2047.1 1372.1L2040.5 1374.2L2050.9 1375.1L2039.5 1377.5L2050.1 1378.4L2040.4 1380.6L2049.1 1381.6L2040.3 1383.8L2048.6 1384.9L2039.8 1387.1L2049.3 1388.0L2038.6 1390.3L2051.5 1391.1L2042.0 1393.3L2052.4 1394.3L2042.4 1396.5L2052.5 1397.4L2041.3 1399.8L2052.4 1400.6L2041.2 1403.0L2050.9 1403.9L2042.1 1406.2L2051.7 1407.1L2041.7 1409.4L2050.1 1410.4L2042.1 1412.6L2051.8 1413.5L2040.8 1415.9L2050.8 1416.8L2043.8 1418.9L2050.7 1420.0L2043.2 1422.2L2052.3 1423.1L2043.6 1425.3L2051.2 1426.4L2041.5 1428.7L2051.3 1429.6L2042.7 1431.8L2052.2 1432.7L2043.8 1434.9L2053.2 1435.8L2043.9 1438.1L2052.2 1439.1L2045.4 1441.2L2052.4 1442.3L2043.6 1444.6L2052.3 1445.5L2043.9 1447.8L2053.6 1448.6L2046.5 1450.8L2056.2 1451.7L2044.1 1454.2L2053.5 1455.1L2046.4 1457.2L2056.3 1458.1L2046.4 1460.4L2056.5 1461.3L2045.6 1463.7L2056.0 1464.5L2047.0 1466.8L2056.1 1467.7L2044.8 1470.2L2054.5 1471.0L2046.6 1473.2L2056.4 1474.1L2048.9 1476.3L2055.8 1477.4L2048.3 1479.5L2052.0 1480.0L2041.6 1475.8L2059.7 1481.4L2044.8 1473.7L2064.0 1479.6L2048.4 1471.7L2062.9 1475.7L2047.2 1467.7L2067.5 1471.8L2051.4 1467.1L2061.9 1467.4L2050.0 1463.5L2067.8 1465.3L2046.9 1459.7L2063.6 1461.3L2047.0 1456.4L2067.0 1458.6L2047.3 1453.2L2070.4 1456.1L2054.1 1451.3L2071.3 1453.0L2051.9 1447.6L2066.2 1448.7L2052.6 1444.5L2066.2 1445.5L2051.2 1440.9L2070.1 1443.0L2056.4 1438.7L2068.5 1438.7L2053.8 1435.8L2072.7 1435.9L2055.8 1432.8L2068.2 1432.3L2055.5 1429.5L2068.2 1429.1L2055.9 1426.3L2074.3 1426.4L2057.3 1423.3L2070.5 1422.8L2053.3 1419.7L2070.1 1419.6L2058.4 1416.9L2070.7 1416.4L2055.1 1413.4L2074.3 1413.6L2054.9 1410.2L2069.9 1409.9L2058.0 1407.3L2070.6 1406.8L2056.3 1403.9L2072.7 1403.8L2055.2 1400.6L2074.4 1400.7L2056.7 1397.5L2071.9 1397.3L2057.3 1394.3L2071.4 1394.0L2060.8 1391.4L2077.4 1391.3L2060.5 1388.2L2071.5 1387.6L2056.9 1384.7L2073.1 1384.5L2060.2 1381.7L2076.2 1381.6L2055.9 1378.1L2072.5 1378.0L2058.3 1375.1L2072.9 1374.9L2057.7 1371.9L2075.6 1371.9L2062.9 1369.1L2076.0 1368.7L2059.2 1365.6L2074.5 1365.4L2061.4 1362.6L2079.4 1362.2L2058.4 1359.5L2079.2 1359.0L2061.1 1356.4L2079.2 1355.8L2063.6 1353.4L2077.1 1352.5L2062.6 1350.1L2075.4 1349.2L2064.7 1347.0L2075.0 1346.0L2058.1 1343.5L2077.5 1342.9L2063.0 1340.5L2079.7 1339.8L2060.3 1337.2L2081.6 1336.7L2059.1 1333.9L2075.7 1333.2L2064.0 1331.0L2078.3 1330.1L2063.8 1327.7L2079.6 1327.0L2064.4 1324.6L2082.3 1323.9L2063.9 1321.3L2082.4 1320.7L2059.8 1317.9L2080.9 1317.4L2064.7 1315.0L2076.7 1314.0L2059.6 1311.5L2083.1 1311.1L2063.4 1308.5L2077.1 1307.6L2061.7 1305.2L2078.9 1304.5L2064.2 1302.1L2084.0 1301.6L2060.9 1298.8L2083.2 1298.3L2067.1 1295.9L2082.0 1295.0L2063.4 1292.5L2082.6 1291.9L2067.8 1289.5L2084.2 1288.8L2066.9 1286.3L2077.8 1285.2L2063.6 1282.9L2083.3 1282.3L2063.3 1279.7L2078.8 1278.9L2067.0 1276.6L2082.2 1275.8L2064.4 1273.3L2083.8 1272.7L2068.9 1270.3L2083.3 1269.5L2067.6 1267.1L2081.2 1266.2L2068.2 1263.9L2082.5 1263.0L2067.6 1260.7L2083.6 1259.9L2067.6 1257.4L2080.1 1256.5L2067.4 1254.2L2081.6 1253.4L2067.8 1251.1L2086.8 1250.4L2065.9 1247.7L2086.0 1247.2L2065.7 1244.5L2087.0 1244.0L2066.9 1241.4L2083.5 1240.7L2068.7 1238.3L2082.0 1237.4L2064.2 1234.8L2083.9 1234.3L2066.2 1231.7L2087.3 1231.2L2067.3 1228.6L2082.1 1227.8L2066.2 1225.3L2086.7 1224.8L2064.7 1222.1L2084.2 1221.5L2070.7 1219.2L2086.2 1218.4L2066.1 1215.7L2081.8 1214.9L2066.1 1212.5L2087.6 1212.0L2071.6 1209.6L2086.2 1208.8L2071.5 1206.5L2085.6 1205.3L2071.4 1203.3L2086.1 1202.1L2070.4 1200.1L2085.6 1198.9L2068.0 1196.8L2087.8 1195.7L2069.2 1193.7L2083.3 1192.4L2070.3 1190.5L2085.3 1189.3L2070.3 1187.3L2083.9 1186.0L2065.7 1184.0L2085.0 1182.9L2072.9 1181.0L2084.3 1179.7L2067.4 1177.6L2087.8 1176.5L2069.7 1174.5L2083.1 1173.2L2070.7 1171.3L2089.4 1170.2L2072.2 1168.1L2083.5 1166.8L2070.1 1164.9L2083.1 1163.6L2066.8 1161.6L2089.0 1160.6L2072.4 1158.5L2089.4 1157.4L2066.5 1155.2L2088.7 1154.2L2068.1 1152.0L2084.1 1150.8L2072.0 1148.9L2086.8 1147.7L2072.5 1145.7L2089.5 1144.6L2071.1 1142.5L2088.2 1141.3L2071.1 1139.3L2090.6 1138.2L2071.7 1136.1L2089.9 1135.0L2067.9 1132.8L2088.3 1131.7L2073.7 1129.7L2090.6 1128.7L2073.1 1126.5L2084.6 1125.3L2068.3 1123.1L2085.4 1122.1L2074.3 1120.1L2090.5 1119.1L2068.0 1116.7L2086.8 1115.8L2072.2 1113.7L2089.7 1112.7L2069.7 1110.4L2086.6 1109.3L2074.6 1107.3L2085.6 1106.1L2073.2 1104.1L2084.9 1102.9L2070.0 1100.8L2087.6 1099.8L2071.5 1097.6L2086.8 1096.5L2072.7 1094.5L2090.2 1093.5L2069.2 1091.1L2091.2 1090.3L2072.0 1088.0L2091.4 1087.1L2073.6 1084.9L2089.9 1083.8L2073.8 1081.7L2092.0 1080.7L2073.2 1078.5L2085.9 1077.3L2070.6 1075.2L2086.8 1074.1L2070.1 1072.0L2091.8 1071.1L2070.0 1068.8L2086.4 1067.7L2074.2 1065.7L2086.4 1064.5L2076.3 1062.6L2089.3 1061.4L2072.4 1059.2L2086.6 1058.1L2071.9 1056.0L2089.0 1055.0L2075.9 1052.9L2091.1 1051.9L2073.9 1049.7L2089.2 1048.6L2070.2 1046.3L2090.9 1045.5L2074.5 1043.3L2090.8 1042.3L2070.6 1040.0L2088.2 1039.0L2072.5 1036.8L2093.9 1036.0L2072.7 1033.6L2088.0 1032.5L2071.9 1030.4L2091.1 1029.5L2076.4 1027.3L2092.5 1026.3L2071.6 1024.0L2092.8 1023.1L2071.1 1020.8L2088.7 1019.8L2070.9 1017.6L2094.0 1016.7L2075.7 1014.0L2091.8 1014.1L2072.6 1010.5L2093.7 1011.1L2075.3 1007.5L2090.0 1007.5L2075.7 1004.3L2095.6 1004.8L2073.3 1000.9L2091.1 1001.1L2079.6 998.3L2092.7 998.1L2075.9 994.7L2096.7 995.3L2074.1 991.3L2094.3 991.8L2078.9 988.6L2096.3 988.8L2077.2 985.2L2091.6 985.1L2078.4 982.1L2095.7 982.3L2078.9 978.9L2095.7 979.1L2076.7 975.5L2098.5 976.2L2078.5 972.5L2093.3 972.4L2076.0 969.0L2098.4 969.7L2079.9 966.2L2096.6 966.3L2076.7 962.6L2093.7 962.8L2079.3 959.7L2097.2 960.0L2089.0 958.0L2089.0 962.6L2091.2 1039.4L2093.4 962.2L2095.6 1126.1L2097.9 947.5L2100.1 1125.2L2102.3 954.9L2104.5 1129.4L2106.7 938.2L2108.9 1110.0L2111.2 924.8L2113.4 1126.5L2115.6 903.9L2117.8 1070.4L2120.0 903.8L2122.2 1046.1L2124.4 854.2L2126.7 1020.0L2128.9 839.2L2131.1 1009.6L2133.3 809.2L2135.5 1014.4L2137.7 814.8L2139.9 1007.4L2142.2 789.9L2144.4 1006.4L2146.6 783.7L2148.8 989.6L2151.0 784.0L2153.2 1016.9L2155.5 783.8L2157.7 1027.8L2159.9 777.0L2162.1 1019.6L2164.3 773.7L2166.5 1050.7L2168.7 808.1L2171.0 1045.0L2173.2 792.3L2175.4 1040.9L2177.6 811.6L2179.8 1050.9L2182.0 790.3L2184.2 1061.4L2186.5 800.9L2188.7 1033.8L2190.9 793.3L2193.1 1020.9L2195.3 815.7L2197.5 1064.1L2199.8 822.3L2202.0 1102.1L2204.2 864.5L2206.4 1101.2L2208.6 884.5L2210.8 1104.8L2213.0 879.8L2215.3 1094.5L2217.5 901.0L2219.7 1108.8L2221.9 893.5L2224.1 1124.8L2226.3 902.9L2228.5 1108.6L2230.8 903.5L2233.0 1114.1L2235.2 892.8L2237.4 1111.3L2239.6 891.4L2241.8 1117.4L2244.1 881.6L2246.3 1102.0L2248.5 864.7L2250.7 1093.4L2252.9 863.6L2255.1 1076.6L2257.3 866.4L2259.6 1050.6L2261.8 867.3L2264.0 1032.9L2266.2 814.1L2268.4 1053.0L2270.6 795.6L2272.8 1084.9L2275.1 766.2L2277.3 1049.8L2279.5 768.6L2281.7 1042.2L2283.9 763.5L2286.1 1007.3L2288.4 786.9L2290.6 1005.4L2292.8 772.5L2295.0 981.0" stroke="#ff0000" stroke-width="5.0" stroke-dasharray="5.5 6" stroke-linejoin="bevel"/>
<path d="M327.0 960.0L327.0 1095.0" stroke="#ff0000" stroke-width="5.0" stroke-dasharray="5.5 6" stroke-linejoin="bevel"/>
<path d="M351.0 960.0L351.0 1095.0" stroke="#ff0000" stroke-width="5.0" stroke-dasharray="5.5 6" stroke-linejoin="bevel"/>
<path d="M365.0 960.0L365.0 1187.0" stroke="#ff0000" stroke-width="5.0" stroke-dasharray="5.5 6" stroke-linejoin="bevel"/>
<path d="M2010.0 430.0L2013.0 331.0L2016.0 430.0" stroke="#ff0000" stroke-width="5.0" stroke-dasharray="5.5 6" stroke-linejoin="bevel"/>
<path d="M1992.0 420.0L1995.0 345.0L1998.0 420.0" stroke="#ff0000" stroke-width="5.0" stroke-dasharray="5.5 6" stroke-linejoin="bevel"/>
<path d="M2002.0 430.0L2005.0 372.0L2008.0 430.0" stroke="#ff0000" stroke-width="5.0" stroke-dasharray="5.5 6" stroke-linejoin="bevel"/>
<path d="M287.0 790.2L288.4 1040.3L289.8 805.2L291.2 1034.1L292.6 794.5L294.0 1044.6L295.4 815.3L296.8 1036.2L298.2 805.9L299.7 1027.9L301.1 790.1L302.5 1031.6L303.9 808.3L305.3 1021.5L306.7 814.8L308.1 1027.2L309.5 822.6L310.9 1022.7L312.3 849.2L313.7 1041.3L315.1 851.2L316.5 1038.5L317.9 859.7L319.3 1033.6L320.7 876.1L322.1 1029.7L323.6 890.8L325.0 1036.0L326.4 878.1L327.8 1045.9L329.2 876.6L330.6 1048.5L332.0 882.6L333.4 1040.8L334.8 879.4L336.2 1039.6L337.6 875.2L339.0 1030.1L340.4 889.0L341.8 1034.3L343.2 880.7L344.6 1033.2L346.0 877.2L347.4 1049.2L348.9 864.2L350.3 1046.0L351.7 858.6L353.1 1044.2L354.5 846.3L355.9 1036.9L357.3 863.0L358.7 1029.1L360.1 864.5L361.5 1045.2L362.9 850.8L364.3 1031.2L365.7 851.5L367.1 1030.9L368.5 865.9L369.9 1030.1L371.3 843.5L372.8 1015.2L374.2 860.3L375.6 1027.0L377.0 859.6L378.4 1008.1L379.8 871.6L381.2 1004.8L382.6 877.3L384.0 994.4L384.0 900.0L392.0 980.0L398.0 1080.0L404.4 1183.0L410.0 1100.0L415.0 1000.0L410.4 958.7L421.0 957.7L411.4 952.8L422.5 951.9L414.3 948.0L425.8 945.5L415.1 942.0L424.5 939.5L416.2 936.0L426.7 933.6L413.1 929.9L423.7 927.4L417.0 924.1L425.2 921.5L415.6 918.0L426.8 915.5L416.7 912.0L426.3 909.5L417.7 906.1L425.0 903.4L418.4 900.1L426.7 897.5L416.6 894.0L427.3 891.5L415.4 887.9L426.3 885.5L418.2 882.1L427.3 879.5L415.9 876.0L426.9 873.5L419.0 870.1L427.8 867.6L417.7 863.9L427.6 861.6L420.3 858.1L429.9 855.8L419.1 852.0L429.7 849.7L421.8 846.2L428.7 843.6L421.9 840.1L429.7 837.7L419.0 833.9L432.7 831.9L419.6 828.0L430.5 825.7L421.2 822.1L433.2 819.9L422.6 816.1L431.5 813.8L421.5 810.0L431.7 807.8L422.9 804.1L432.2 801.8L421.9 798.1L433.3 795.8L425.3 792.3L431.6 789.7L423.4 786.1L432.4 783.7L423.7 780.1L433.3 777.8L424.7 774.2L434.2 771.8L424.6 768.2L433.7 765.8L426.0 762.3L436.3 759.9L427.1 756.3L431.0 756.0L427.7 739.8L437.7 737.2L425.7 733.7L438.9 731.2L429.9 727.9L440.4 725.3L430.2 721.9L438.0 719.2L430.4 715.9L440.3 713.3L427.0 709.7L440.5 707.3L430.2 703.9L441.9 701.3L427.4 697.7L439.6 695.2L430.5 691.9L441.6 689.3L427.4 685.7L442.9 683.4L428.1 679.7L442.3 677.3L431.5 673.9L442.0 671.3L430.7 667.8L442.4 665.3L430.7 661.8L440.6 659.2L429.0 655.8L440.0 653.2L431.9 649.9L441.6 647.3L429.2 643.8L440.9 641.2L431.3 637.8L445.1 635.4L431.4 631.8L445.3 629.4L432.7 625.9L443.2 623.3L433.0 619.9L443.2 617.5L433.6 613.8L442.2 611.4L431.0 607.6L445.8 605.6L432.9 601.7L445.3 599.6L435.6 595.9L444.2 593.5L432.4 589.6L447.5 587.7L435.3 583.8L447.6 581.7L433.3 577.6L444.7 575.5L436.6 571.9L446.8 569.6L437.1 565.9L447.9 563.7L437.8 559.9L446.4 557.6L435.5 553.7L437.8 552.9L450.2 555.4L439.5 558.9L448.1 561.5L438.0 565.0L447.1 567.5L438.7 570.9L448.0 573.5L439.0 576.9L448.9 579.5L437.5 583.0L450.2 585.4L440.3 588.9L450.8 591.4L439.5 594.9L449.3 597.5L438.3 601.0L451.3 603.4L442.2 606.8L451.4 609.4L440.7 612.9L449.5 615.5L438.2 619.0L452.3 621.4L438.3 625.0L451.9 627.4L441.3 630.9L450.7 633.4L440.5 636.9L452.5 639.4L443.1 642.8L454.5 645.2L441.4 648.9L451.2 651.4L439.9 655.0L453.1 657.3L440.5 661.0L453.4 663.3L445.0 666.8L454.4 669.3L443.6 672.8L455.8 675.2L443.5 678.9L454.2 681.3L444.2 684.8L455.0 687.3L443.0 690.9L456.9 693.2L444.9 696.8L454.0 699.3L447.0 702.7L456.5 705.2L446.3 708.8L458.0 711.1L445.7 714.8L451.0 716.0L451.0 701.1L453.5 723.9L456.1 659.2L458.6 765.3L461.2 654.5L463.7 784.5L466.3 662.6L468.8 786.7L471.4 662.5L473.9 776.4L476.5 667.8L479.0 794.2L482.9 799.7L475.8 803.3L484.9 805.5L475.8 809.3L484.3 811.6L475.9 815.3L484.1 817.6L476.1 821.3L486.6 823.4L478.6 827.1L485.9 829.5L478.4 833.2L486.7 835.5L477.6 839.3L485.0 841.6L479.9 845.1L487.3 847.5L477.8 851.3L488.7 853.4L478.4 857.2L486.9 859.6L480.8 863.3L489.3 865.1L481.6 869.2L488.9 871.2L480.5 875.5L491.3 876.9L483.3 881.1L491.6 882.9L483.1 887.2L493.5 888.7L483.7 893.2L492.9 894.9L483.9 899.2L495.3 899.6L488.2 905.2L495.2 906.0L489.5 911.1L497.4 911.6L489.9 917.3L498.4 917.6L492.0 922.9L500.8 923.1L493.9 928.6L503.7 928.5L503.3 927.8L495.1 923.4L505.3 922.0L496.1 917.5L505.9 916.1L499.7 912.0L507.7 910.3L500.8 906.1L508.8 904.4L500.0 899.9L509.7 897.7L502.6 894.7L509.9 891.7L501.8 888.7L509.2 885.7L499.7 882.6L510.8 879.8L502.4 876.7L508.0 873.7L500.2 870.6L509.3 867.7L500.5 864.6L510.2 861.8L499.5 858.6L511.0 855.8L499.6 852.6L511.2 849.8L501.2 846.6L509.5 843.7L502.7 840.7L511.2 837.8L501.6 834.6L510.0 831.7L502.4 828.7L509.5 825.7L501.7 822.6L510.7 819.8L502.5 816.7L509.0 813.7L501.5 810.6L511.9 807.8L501.7 804.6L512.1 801.8L503.2 798.7L511.5 795.8L501.9 792.6L508.8 789.7L503.3 786.7L511.4 783.8L501.1 780.6L509.3 777.7L501.6 774.6L512.1 771.8L503.3 768.7L512.0 765.8L503.7 762.7L509.6 759.7L501.4 756.6L512.3 753.8L501.9 750.6L511.0 747.8L502.1 744.6L511.3 741.8L502.3 738.6L512.7 735.8L502.9 732.7L510.4 729.7L503.9 726.7L511.4 723.8L502.0 720.6L511.0 717.8L503.9 714.7L510.2 711.7L502.3 708.6L509.7 705.7L503.7 702.7L510.4 699.7L502.4 696.6L512.5 693.8L502.6 690.6L504.8 692.4L511.0 695.2L504.3 698.4L513.4 701.2L502.1 704.4L513.1 707.2L503.5 710.4L511.9 713.2L503.6 716.4L512.5 719.2L504.5 722.4L511.4 725.2L505.8 728.3L511.8 731.2L505.5 734.3L513.6 737.2L503.3 740.4L511.7 743.2L503.2 746.4L514.0 749.2L505.2 752.4L514.0 755.2L504.9 758.4L513.9 761.2L504.1 764.4L515.0 767.1L504.8 770.4L512.6 773.2L504.7 776.4L514.3 779.2L505.4 782.4L513.4 785.2L503.7 788.4L515.6 791.1L504.7 794.4L514.1 797.2L505.2 800.5L513.2 803.1L507.7 806.4L513.7 809.1L505.9 812.4L516.5 815.0L505.6 818.5L515.6 821.1L508.2 824.4L516.5 827.0L508.6 830.3L514.5 833.1L507.0 836.4L516.8 839.0L509.1 842.3L517.0 845.0L507.2 848.4L516.8 851.0L507.7 854.4L518.2 857.0L507.0 860.4L515.0 863.1L507.0 866.4L517.5 869.0L507.0 872.4L518.8 875.0L509.3 878.4L516.2 881.1L507.5 884.4L516.0 887.1L510.7 890.3L516.9 893.1L508.5 896.4L516.9 899.1L509.8 902.8L518.0 904.6L510.6 908.8L519.5 910.5L510.8 914.8L521.1 916.3L511.2 920.8L520.2 922.5L515.1 926.3L522.8 928.2L513.5 932.6L525.0 933.9L516.9 938.2L520.0 940.0L524.0 900.0L531.0 1033.0L540.7 1104.0L545.4 1147.0L550.0 1100.0L555.0 960.0L560.0 920.0L566.0 990.0L572.0 1060.0L576.0 1000.0L580.0 850.0L585.0 650.0L591.0 498.8L600.0 460.0L610.0 450.0L618.0 440.0L628.0 430.0L635.0 470.0L635.0 446.7L637.5 525.4L640.0 469.9L642.5 565.7L645.1 489.0L647.6 619.5L650.1 510.4L652.6 645.3L655.1 540.1L657.6 663.8L660.1 564.9L662.7 675.4L665.2 571.3L667.7 681.6L670.2 590.2L672.7 697.7L675.2 594.9L677.8 713.5L680.3 597.9L682.8 713.3L685.3 610.1L687.8 732.4L690.3 613.6L692.8 743.5L695.4 624.6L697.9 749.4L700.4 626.4L702.9 759.9L705.4 626.0L707.9 775.7L710.4 617.3L713.0 773.2L715.5 617.3L718.0 795.8L720.5 616.5L723.0 794.8L725.5 612.4L728.1 793.0L730.6 592.2L733.1 801.8L735.6 602.8L738.1 802.9L740.6 586.1L743.1 808.0L745.7 613.5L748.2 821.3L750.7 656.1L753.2 842.0L755.7 673.8L758.2 841.7L760.7 686.0L763.3 850.6L765.8 709.6L768.3 866.1L770.8 711.6L773.3 867.5L775.8 707.5L778.4 900.8L780.9 672.0L783.4 904.0L785.9 623.9L788.4 951.8L790.9 667.9L793.4 976.2L796.0 709.0L798.5 1000.2L801.0 722.6L803.5 1022.3L806.0 732.0L808.5 1088.4L811.0 762.2L813.6 1101.2L816.1 766.2L818.6 1086.6L821.1 753.5L823.6 1063.3L826.1 759.6L828.6 1010.5L831.2 764.7L833.7 984.3L836.2 737.7L838.7 970.5L841.2 748.6L843.7 978.6L846.3 766.1L848.8 1007.3L851.3 745.0L853.8 986.8L856.3 713.9L858.8 987.4L861.3 610.6L863.9 986.1L866.4 520.5L868.9 877.8L871.4 556.1L873.9 845.5L876.4 551.6L878.9 842.1L881.5 551.6L884.0 820.5L886.5 547.0L889.0 804.8L891.5 566.8L894.0 826.4L896.6 564.7L899.1 811.7L901.6 551.5L904.1 813.3L906.6 570.7L909.1 813.9L911.6 568.7L914.2 818.2L916.7 561.4L919.2 810.1L921.7 568.4L924.2 814.8L926.7 590.0L929.2 814.5L931.8 642.9L934.3 820.1L936.8 648.2L939.3 840.0L941.8 657.0L944.3 848.7L946.9 684.8L949.4 855.1L951.9 724.1L954.4 867.8L956.9 810.1L959.4 896.2L961.9 835.8L964.5 910.9L967.0 866.1L969.5 923.7L972.0 900.7L972.0 932.0L972.8 1065.6L976.1 1115.4L979.4 1165.1L982.7 1224.9L992.7 1281.3L1006.0 1307.9L1012.6 1321.2L1015.9 1264.7L1019.3 1198.3L1020.9 1098.8L1022.6 1015.8L1029.2 949.4L1035.9 866.4L1042.5 800.0L1049.0 700.0L1046.3 699.9L1053.7 697.2L1043.3 693.7L1053.1 691.2L1045.2 687.8L1053.5 685.2L1044.8 681.8L1054.9 679.3L1045.6 675.8L1056.3 673.3L1045.6 669.8L1054.3 667.2L1047.0 663.9L1055.6 661.3L1046.2 657.8L1054.4 655.2L1046.1 651.8L1055.6 649.3L1046.5 645.8L1054.6 643.2L1048.5 639.9L1054.6 637.2L1048.3 633.9L1055.6 631.2L1048.8 627.9L1055.8 625.2L1047.2 621.9L1057.5 619.3L1049.2 616.0L1057.2 613.3L1050.1 610.0L1059.0 607.3L1047.7 603.9L1057.9 601.3L1050.6 598.0L1059.5 595.3L1050.6 592.0L1056.5 589.2L1050.1 586.0L1057.9 583.3L1048.8 579.9L1057.3 577.2L1051.9 574.0L1058.6 571.3L1052.1 568.0L1059.6 565.3L1050.8 562.0L1060.6 559.3L1049.4 555.9L1058.5 553.2L1050.1 550.0L1059.6 547.3L1049.7 543.9L1058.3 541.2L1051.7 538.0L1061.8 535.3L1053.3 532.1L1059.5 529.3L1052.6 526.0L1059.9 523.3L1050.4 520.0L1059.5 517.3L1051.2 514.0L1060.0 511.3L1051.2 508.0L1059.8 505.3L1054.2 502.1L1063.0 499.4L1054.7 496.1L1061.9 493.3L1054.2 490.1L1061.9 487.3L1054.0 484.1L1062.3 481.3L1052.9 478.0L1062.9 475.3L1055.1 472.1L1063.4 469.4L1054.9 466.1L1062.8 463.3L1053.0 460.0L1063.6 457.4L1054.2 454.0L1062.8 451.3L1055.8 448.1L1064.4 445.4L1054.4 442.0L1064.2 439.4L1053.3 436.0L1064.1 433.4L1055.8 430.1L1063.6 427.3L1056.5 424.1L1063.0 421.3L1054.2 418.0L1064.6 415.4L1056.9 412.1L1064.3 409.4L1056.3 406.1L1065.6 403.4L1054.9 400.0L1064.1 397.3L1057.8 394.1L1063.7 391.3L1056.3 388.1L1064.5 385.4L1058.4 382.1L1066.1 379.4L1056.5 376.1L1064.8 373.4L1058.9 370.1L1065.2 367.4L1057.1 364.1L1064.3 361.3L1059.0 358.1L1064.5 355.3L1059.5 352.2L1066.8 349.4L1057.3 346.1L1067.1 343.4L1058.9 340.1L1066.3 337.4L1060.3 334.2L1068.1 331.5L1058.6 328.1L1066.1 325.4L1060.4 322.2L1066.7 319.4L1059.6 316.1L1068.4 313.5L1061.0 310.2L1068.9 307.5L1060.6 304.2L1066.9 301.4L1059.5 297.8L1067.4 295.6L1058.8 291.7L1069.9 289.8L1060.4 285.9L1070.0 283.8L1060.4 279.8L1066.0 280.0L1064.0 298.2L1066.5 436.9L1069.0 284.6L1071.5 438.1L1074.0 300.1L1076.5 426.9L1079.0 318.4L1081.5 422.2L1084.0 348.5L1086.5 421.8L1089.0 393.5L1095.2 419.6L1081.4 422.7L1097.4 423.8L1082.0 427.1L1097.8 428.2L1082.1 431.5L1097.7 432.7L1084.3 435.7L1095.3 437.2L1084.2 440.2L1100.0 441.3L1086.1 444.5L1097.5 445.9L1083.7 449.0L1099.1 450.2L1083.9 453.4L1101.4 454.5L1080.9 458.0L1099.8 459.0L1086.1 462.1L1102.1 463.2L1082.0 466.8L1099.7 467.8L1082.7 471.1L1102.7 472.0L1082.0 475.6L1098.7 476.7L1087.1 479.7L1102.8 480.8L1087.1 484.1L1099.6 485.4L1088.8 488.4L1103.1 489.6L1087.9 492.8L1099.5 494.3L1085.7 497.4L1099.2 498.7L1084.9 501.9L1099.5 503.1L1083.9 506.3L1100.1 507.5L1089.7 510.4L1102.6 511.7L1085.9 515.0L1103.0 516.1L1086.5 519.4L1101.7 520.6L1085.8 523.8L1101.8 525.0L1089.1 528.0L1106.0 529.1L1089.5 532.4L1101.4 533.8L1087.6 537.0L1101.9 538.2L1090.0 541.2L1103.8 542.5L1089.7 545.6L1102.8 547.0L1087.2 550.2L1107.5 551.1L1089.9 554.4L1104.4 555.7L1091.3 558.8L1104.5 560.1L1091.4 563.2L1106.3 564.4L1089.5 567.7L1104.0 568.9L1088.6 572.2L1109.5 573.0L1091.5 576.4L1107.5 577.5L1094.7 580.6L1105.7 582.1L1095.3 584.9L1105.2 586.5L1091.1 589.6L1106.1 590.8L1091.6 594.0L1110.2 595.0L1093.7 598.3L1109.8 599.1L1093.0 603.0L1109.9 603.5L1093.4 607.4L1110.5 607.9L1096.7 611.5L1113.2 612.0L1096.8 615.9L1108.0 617.0L1097.0 620.3L1112.9 620.9L1092.6 625.2L1114.5 625.2L1098.6 629.0L1111.0 630.0L1095.0 633.8L1109.6 634.5L1097.6 637.9L1113.0 638.6L1099.0 642.2L1111.7 643.1L1098.1 646.7L1111.1 647.6L1095.8 651.6L1113.8 651.6L1101.1 655.4L1114.4 656.0L1100.3 659.9L1115.9 660.2L1102.8 664.0L1114.7 664.8L1103.3 668.4L1116.7 669.0L1101.1 673.1L1118.5 673.2L1100.7 677.6L1117.2 677.8L1101.2 681.9L1116.4 682.3L1102.4 686.2L1117.4 686.7L1103.4 690.5L1118.1 691.0L1106.9 694.6L1117.2 695.5L1103.7 699.4L1117.2 699.9L1105.6 703.7L1122.3 703.7L1105.4 708.1L1122.7 708.1L1107.0 712.4L1118.2 713.1L1106.9 716.8L1123.7 716.8L1107.2 721.2L1121.7 721.5L1105.3 725.9L1122.3 725.9L1105.4 730.3L1125.3 729.9L1110.8 734.0L1125.3 734.3L1108.4 738.8L1125.5 738.7L1108.8 743.2L1124.8 743.3L1108.9 747.6L1126.7 747.5L1109.3 752.0L1128.4 751.7L1111.0 756.2L1127.5 756.2L1114.1 760.2L1125.2 760.9L1113.0 764.9L1128.4 764.9L1114.4 769.1L1129.1 769.3L1111.8 774.0L1132.1 773.3L1112.2 778.3L1128.0 778.3L1117.3 782.1L1133.3 782.0L1113.9 787.0L1129.7 787.0L1114.8 791.3L1129.2 791.5L1118.0 795.3L1133.7 795.3L1118.6 799.7L1135.8 799.4L1120.4 803.8L1131.8 804.4L1119.6 808.4L1133.2 808.7L1118.2 813.0L1136.5 812.7L1122.9 816.8L1133.8 817.5L1123.9 821.1L1139.6 821.1L1123.3 825.7L1135.1 826.2L1123.6 830.1L1137.4 830.1L1125.2 834.4L1139.9 834.1L1123.7 839.1L1138.3 838.9L1121.5 844.0L1140.4 843.0L1123.9 848.0L1139.6 847.6L1126.6 852.0L1144.3 851.2L1128.9 856.1L1145.3 855.5L1128.9 860.6L1139.9 860.9L1128.9 865.0L1146.0 864.3L1128.3 869.6L1144.3 869.1L1132.7 873.3L1145.5 873.4L1127.2 878.7L1148.1 877.4L1129.0 882.9L1143.8 882.6L1134.1 886.5L1146.2 886.6L1131.0 891.5L1148.7 890.7L1134.7 895.3L1146.1 895.6L1135.4 899.6L1142.0 900.0L1144.2 919.9L1139.4 924.1L1144.3 927.9L1138.9 932.1L1144.8 935.9L1139.9 940.1L1146.8 943.8L1140.6 948.1L1147.3 951.8L1140.2 956.1L1146.6 959.8L1140.8 964.1L1147.0 967.8L1141.7 972.1L1148.4 975.8L1142.0 980.1L1148.7 983.8L1141.2 988.1L1146.7 991.9L1143.0 996.0L1148.1 999.8L1142.0 1004.1L1147.7 1007.8L1142.8 1012.0L1148.5 1015.8L1142.7 1020.1L1150.2 1023.7L1143.1 1028.0L1148.8 1031.8L1143.5 1036.0L1149.7 1039.8L1143.6 1044.0L1150.1 1047.8L1143.8 1052.0L1151.7 1055.7L1144.3 1060.0L1151.7 1063.7L1144.7 1068.0L1151.4 1071.7L1146.6 1075.9L1152.7 1079.7L1146.2 1084.0L1150.7 1087.8L1146.6 1092.0L1152.0 1095.7L1147.5 1099.9L1153.7 1103.7L1148.1 1107.9L1153.9 1111.6L1147.5 1116.0L1152.7 1119.7L1148.5 1124.0L1153.9 1127.6L1149.6 1131.9L1155.2 1135.5L1148.9 1140.0L1156.2 1143.5L1149.0 1148.0L1156.3 1151.5L1149.1 1156.0L1157.2 1159.5L1150.5 1163.9L1156.8 1167.5L1151.3 1171.9L1158.0 1175.4L1150.9 1179.9L1158.5 1183.4L1151.6 1187.9L1157.1 1191.5L1153.1 1195.8L1157.9 1199.4L1153.5 1203.9L1159.8 1207.3L1154.3 1211.9L1161.3 1215.2L1155.9 1219.7L1161.8 1223.2L1155.8 1227.8L1161.3 1231.3L1155.7 1235.8L1161.7 1239.3L1157.7 1243.7L1163.7 1247.1L1158.2 1251.7L1165.5 1255.0L1159.1 1259.6L1166.1 1262.9L1160.5 1267.5L1166.0 1271.0L1161.7 1275.4L1167.1 1278.9L1161.8 1283.5L1168.3 1286.8L1163.4 1291.4L1168.3 1294.9L1162.2 1299.5L1168.1 1302.9L1163.7 1307.4L1170.5 1310.7L1164.3 1315.4L1171.3 1318.2L1166.8 1323.5L1174.3 1325.7L1169.3 1331.1L1175.7 1333.6L1170.5 1339.1L1177.9 1341.3L1173.0 1346.7L1178.3 1349.5L1174.4 1354.6L1180.9 1357.0L1176.5 1362.6L1184.8 1364.0L1179.1 1370.2L1186.1 1372.0L1181.4 1377.8L1185.0 1376.9L1188.5 1381.7L1200.0 1385.0L1210.0 1370.0L1218.1 1375.7L1227.0 1420.2L1238.8 1464.6L1250.7 1517.9L1255.1 1529.7L1259.6 1494.2L1265.5 1405.3L1268.4 1316.5L1269.9 1227.7L1272.9 1153.6L1275.9 1094.4L1278.8 1050.0L1285.0 950.0L1293.4 860.0L1306.7 750.0L1315.5 679.4L1324.4 614.2L1333.3 561.0L1339.2 531.3L1339.0 521.9L1341.5 535.5L1344.0 512.4L1346.5 523.2L1349.0 501.9L1351.5 513.6L1354.1 489.3L1356.6 503.8L1359.1 482.2L1361.6 498.3L1364.1 479.3L1366.6 495.6L1369.1 475.2L1371.6 492.5L1374.1 473.6L1376.6 488.7L1379.2 470.1L1381.7 485.7L1384.2 466.8L1386.7 480.7L1389.2 461.4L1391.7 477.1L1394.2 456.5L1396.7 474.0L1399.2 451.6L1401.7 461.8L1404.2 439.3L1406.8 450.4L1409.3 426.2L1411.8 417.2L1414.3 374.8L1416.8 396.3L1419.3 343.1L1421.8 395.9L1424.3 306.1L1426.8 384.3L1429.3 278.7L1431.8 338.7L1434.4 262.5L1436.9 327.4L1439.4 260.6L1441.9 338.6L1444.4 262.3L1446.9 349.5L1449.4 269.3L1451.9 377.2L1454.4 270.8L1456.9 410.7L1459.5 284.7L1462.0 431.2L1464.5 303.7L1467.0 484.7L1469.5 423.3L1472.0 528.0L1474.0 605.0L1475.4 750.0L1478.0 1000.0L1481.0 1200.0L1484.5 1199.9L1479.6 1204.0L1484.1 1207.9L1478.8 1212.0L1484.7 1215.9L1479.1 1220.0L1484.8 1223.9L1479.8 1228.0L1485.1 1231.9L1479.5 1236.0L1483.6 1240.0L1479.8 1244.0L1484.7 1247.9L1480.6 1252.0L1484.3 1255.9L1480.8 1260.0L1483.8 1264.0L1480.6 1268.0L1484.3 1271.9L1480.5 1276.0L1485.6 1279.9L1480.4 1284.0L1486.0 1287.9L1479.6 1292.0L1486.2 1295.9L1479.6 1300.0L1485.7 1303.9L1480.4 1308.0L1486.5 1311.9L1480.8 1316.0L1485.1 1319.9L1481.0 1324.0L1486.1 1327.9L1481.9 1332.0L1485.3 1335.9L1482.0 1340.0L1486.7 1343.9L1480.9 1348.0L1486.8 1351.9L1481.8 1356.0L1485.7 1359.9L1482.9 1364.0L1487.1 1367.9L1481.9 1372.0L1486.9 1375.9L1482.8 1380.0L1486.3 1383.9L1483.0 1388.0L1486.5 1391.9L1482.3 1396.0L1487.0 1399.9L1482.5 1404.0L1487.5 1407.9L1482.8 1412.0L1488.4 1415.9L1482.5 1420.0L1487.4 1423.9L1482.3 1428.0L1489.0 1431.9L1482.8 1436.0L1488.4 1439.9L1482.8 1444.0L1489.4 1447.9L1484.5 1452.0L1489.3 1455.9L1483.4 1460.0L1489.7 1463.9L1483.5 1468.0L1489.4 1471.9L1484.2 1476.0L1488.7 1479.9L1484.5 1484.0L1489.1 1487.9L1484.5 1492.0L1490.9 1495.8L1485.5 1500.0L1489.3 1503.9L1486.4 1508.0L1490.5 1511.9L1486.4 1516.0L1491.2 1519.8L1485.6 1524.0L1490.9 1527.8L1485.7 1532.0L1490.4 1535.9L1486.4 1540.0L1490.4 1543.9L1486.4 1548.0L1486.2 1545.8L1491.4 1542.3L1487.3 1537.9L1494.0 1534.5L1488.9 1530.0L1493.2 1526.4L1489.8 1522.0L1495.3 1518.6L1491.0 1514.1L1496.0 1510.6L1491.4 1506.1L1496.7 1502.6L1491.1 1497.8L1498.1 1495.0L1493.8 1490.2L1498.8 1487.0L1494.9 1482.3L1500.8 1479.2L1496.3 1474.4L1500.7 1471.1L1497.4 1466.4L1501.9 1463.1L1499.1 1458.6L1504.5 1455.5L1499.8 1451.0L1503.8 1447.1L1498.7 1442.9L1504.1 1439.1L1499.2 1434.9L1505.2 1431.1L1499.9 1426.9L1505.3 1423.1L1500.0 1419.0L1505.9 1415.1L1500.0 1410.9L1504.9 1407.1L1500.3 1403.0L1505.6 1399.1L1499.9 1394.9L1505.0 1391.1L1501.1 1387.0L1507.0 1383.1L1502.1 1379.0L1506.7 1375.1L1500.6 1370.9L1506.6 1367.1L1502.5 1363.0L1507.2 1359.1L1502.3 1355.0L1506.8 1351.1L1501.3 1347.0L1506.6 1343.1L1502.7 1339.0L1506.4 1335.1L1502.7 1331.0L1506.6 1327.1L1502.2 1323.0L1508.3 1319.1L1503.7 1315.0L1507.8 1311.1L1502.4 1307.0L1508.6 1303.1L1503.7 1299.0L1508.2 1295.1L1503.0 1291.0L1508.4 1287.1L1502.5 1283.0L1509.4 1279.1L1502.8 1275.0L1508.0 1271.1L1505.0 1267.0L1509.2 1263.1L1504.0 1259.0L1508.7 1255.1L1504.9 1251.0L1510.0 1247.1L1504.0 1243.0L1508.6 1239.1L1505.6 1235.0L1510.4 1231.2L1505.4 1227.0L1509.6 1223.2L1504.7 1218.9L1510.4 1215.2L1506.9 1211.0L1511.0 1207.2L1506.6 1203.0L1511.9 1199.3L1506.3 1195.0L1511.1 1191.2L1507.3 1187.0L1513.2 1183.3L1507.8 1179.0L1513.7 1175.4L1507.4 1170.9L1514.0 1167.4L1508.5 1163.0L1513.1 1159.3L1508.3 1155.0L1514.0 1151.3L1510.2 1147.1L1515.0 1143.4L1510.3 1139.1L1516.1 1135.4L1510.8 1131.1L1516.9 1127.5L1510.8 1123.1L1516.9 1119.5L1512.4 1115.2L1517.4 1111.5L1512.5 1107.1L1518.2 1103.5L1517.4 1100.6L1512.5 1104.8L1518.7 1108.5L1514.2 1112.7L1519.5 1116.5L1513.9 1120.8L1518.8 1124.6L1514.5 1128.7L1519.0 1132.6L1513.9 1136.8L1520.6 1140.4L1515.1 1144.8L1520.3 1148.5L1515.7 1152.8L1520.0 1156.5L1515.3 1160.8L1521.1 1164.4L1517.7 1168.7L1521.3 1172.4L1517.6 1176.7L1522.9 1180.3L1518.4 1184.7L1522.2 1188.4L1517.4 1192.7L1523.0 1196.4L1517.9 1200.7L1522.9 1204.4L1520.2 1208.6L1523.9 1212.4L1520.1 1216.6L1525.1 1220.3L1520.7 1224.6L1526.5 1228.2L1520.0 1232.7L1526.2 1236.3L1520.4 1240.6L1527.2 1244.3L1520.8 1248.6L1527.0 1252.3L1523.0 1256.5L1527.4 1260.3L1523.5 1264.5L1527.5 1268.3L1521.9 1272.6L1527.8 1276.3L1523.0 1280.5L1529.4 1284.2L1523.3 1288.5L1528.6 1292.2L1524.1 1296.5L1528.4 1300.3L1523.9 1304.5L1529.9 1308.2L1525.3 1312.4L1529.9 1316.2L1524.6 1320.5L1529.5 1324.2L1526.3 1328.4L1531.1 1332.2L1525.5 1336.5L1531.3 1340.2L1526.2 1344.4L1530.7 1348.2L1526.9 1352.5L1532.4 1356.1L1528.5 1360.4L1532.9 1364.1L1528.7 1368.4L1533.1 1372.1L1528.2 1376.4L1534.7 1380.0L1530.4 1384.3L1533.7 1388.1L1529.7 1392.4L1536.0 1395.9L1530.2 1400.3L1535.4 1404.0L1530.6 1408.3L1537.1 1411.9L1532.6 1416.2L1535.9 1420.0L1537.0 1419.1L1532.1 1414.7L1537.8 1411.1L1533.2 1406.8L1537.6 1403.1L1534.4 1398.8L1537.9 1395.1L1534.3 1390.8L1538.9 1387.1L1534.7 1382.8L1539.9 1379.2L1535.8 1374.9L1541.1 1371.3L1536.3 1366.9L1541.1 1363.2L1536.6 1358.9L1542.1 1355.3L1536.1 1350.8L1542.8 1347.3L1538.7 1343.0L1543.3 1339.3L1538.0 1335.0L1543.4 1331.3L1539.4 1327.1L1542.5 1323.2L1539.8 1319.1L1543.1 1315.2L1540.0 1311.1L1544.7 1307.3L1539.1 1303.0L1544.5 1299.3L1540.6 1295.1L1545.0 1291.3L1541.2 1287.1L1544.9 1283.3L1540.9 1279.1L1546.7 1275.3L1540.7 1271.1L1545.5 1267.3L1540.9 1263.1L1547.7 1259.4L1541.1 1255.1L1546.4 1251.3L1542.2 1247.1L1548.4 1243.4L1543.3 1239.1L1548.0 1235.4L1542.9 1231.1L1549.2 1227.4L1542.8 1223.1L1548.5 1219.4L1543.7 1215.1L1548.4 1211.4L1543.6 1207.1L1548.9 1203.4L1544.3 1199.1L1549.0 1195.4L1544.6 1191.1L1550.8 1187.4L1546.3 1183.2L1550.3 1179.4L1546.5 1175.2L1550.9 1171.4L1546.6 1167.2L1552.0 1163.4L1545.6 1159.2L1550.4 1155.4L1547.1 1151.3L1551.1 1147.4L1547.6 1143.3L1552.0 1139.4L1546.7 1135.2L1552.2 1131.4L1547.4 1127.2L1551.8 1123.4L1547.8 1119.3L1553.4 1115.4L1548.8 1111.3L1552.4 1107.4L1548.2 1103.3L1550.8 1100.0L1551.0 1106.8L1553.6 1159.9L1556.3 965.7L1558.9 1165.7L1561.6 963.4L1564.2 1170.6L1566.9 982.8L1569.5 1152.1L1572.1 981.4L1574.8 1164.3L1577.4 980.5L1580.1 1165.3L1582.7 992.7L1585.4 1142.7L1588.0 997.2L1590.0 1010.0L1595.0 960.0L1600.0 880.0L1605.0 790.0L1609.0 730.0L1612.0 700.0L1612.0 609.3L1614.2 731.6L1616.5 546.2L1618.8 747.0L1621.0 476.5L1623.2 811.2L1625.5 468.6L1627.8 797.8L1630.0 504.5L1632.2 788.9L1634.5 560.7L1636.8 813.4L1639.0 619.8L1641.2 836.9L1643.5 716.8L1645.8 833.8L1648.0 769.1L1624.0 840.0L1625.0 973.0L1627.0 850.0L1640.0 850.0L1640.0 796.2L1642.3 867.9L1644.5 797.8L1646.8 884.4L1649.1 797.5L1651.3 922.1L1653.6 828.8L1655.9 971.0L1658.1 881.7L1660.4 1041.7L1662.7 940.0L1664.9 1115.5L1667.2 999.9L1669.5 1190.1L1671.7 1076.8L1674.0 1223.9L1676.7 1239.9L1670.9 1244.2L1676.8 1247.9L1671.7 1252.1L1678.2 1255.8L1672.5 1260.1L1678.1 1263.8L1672.5 1268.1L1678.8 1271.8L1674.3 1276.0L1677.8 1279.9L1672.7 1284.1L1679.4 1287.8L1674.7 1292.0L1679.8 1295.8L1675.2 1300.0L1680.2 1303.1L1677.2 1308.3L1682.4 1310.8L1680.2 1315.7L1685.4 1318.3L1681.6 1323.6L1687.4 1326.0L1684.0 1331.3L1684.6 1327.9L1690.6 1325.7L1688.5 1320.7L1693.2 1318.1L1690.3 1312.9L1696.4 1310.7L1693.3 1305.5L1698.6 1303.0L1695.2 1297.7L1702.2 1295.8L1698.4 1290.3L1704.3 1287.6L1700.0 1282.9L1704.5 1279.5L1699.6 1274.7L1705.5 1271.5L1702.5 1267.1L1706.2 1263.6L1702.6 1259.0L1709.1 1255.9L1705.1 1251.3L1709.5 1247.9L1705.6 1243.2L1710.4 1239.9L1707.1 1235.4L1711.7 1232.0L1708.5 1227.5L1714.0 1224.3L1709.5 1219.6L1714.4 1216.3L1709.8 1211.5L1715.8 1208.4L1711.3 1203.7L1716.7 1200.4L1711.5 1195.6L1717.2 1192.4L1714.2 1187.9L1718.6 1184.5L1714.4 1179.7L1720.3 1176.8L1716.7 1172.0L1721.2 1168.8L1718.8 1164.3L1723.9 1161.2L1720.2 1156.4L1725.1 1153.3L1721.7 1148.5L1726.4 1145.4L1723.4 1140.7L1729.2 1137.8L1724.1 1132.7L1729.9 1129.8L1726.5 1125.0L1732.2 1122.1L1727.4 1117.0L1732.3 1114.0L1729.7 1109.4L1735.6 1106.4L1731.0 1101.4L1736.2 1101.2L1738.4 1096.1L1744.0 1099.0L1744.9 1092.6L1750.9 1093.5L1746.9 1087.8L1752.3 1083.8L1747.6 1079.8L1751.7 1075.8L1746.9 1071.8L1751.7 1067.8L1747.1 1063.8L1753.2 1059.8L1746.5 1055.8L1752.6 1051.8L1747.1 1047.8L1751.5 1043.8L1746.7 1039.8L1753.1 1035.8L1747.7 1031.8L1751.3 1027.8L1747.3 1023.8L1752.1 1019.8L1746.6 1015.8L1752.8 1011.8L1747.5 1007.8L1752.3 1003.8L1747.4 999.8L1752.6 995.8L1747.1 991.8L1752.6 987.8L1747.9 983.8L1752.9 979.8L1748.3 975.8L1751.8 971.8L1747.2 967.8L1751.3 963.8L1747.1 959.8L1751.9 955.8L1747.7 951.8L1751.4 947.8L1747.6 943.8L1752.4 939.8L1748.3 935.8L1753.0 931.8L1746.3 927.8L1752.3 923.8L1747.2 919.8L1752.9 915.8L1747.0 911.8L1752.6 907.8L1747.4 903.8L1752.3 899.8L1747.6 895.8L1749.8 895.6L1742.3 894.9L1753.9 893.0L1744.5 889.1L1756.2 887.2L1743.2 882.9L1756.3 881.2L1746.2 877.2L1757.8 875.3L1747.1 871.2L1760.0 869.5L1745.3 865.0L1759.5 864.6L1750.6 858.9L1762.4 859.2L1749.9 852.5L1762.2 852.9L1751.6 846.7L1763.5 847.0L1751.5 840.5L1763.0 843.0L1759.2 834.9L1769.7 841.3L1763.1 830.3L1771.6 834.6L1766.8 825.5L1777.9 832.5L1771.3 821.5L1779.4 824.9L1775.2 817.7L1783.9 820.9L1779.9 813.8L1790.2 818.2L1781.0 807.0L1791.1 811.2L1786.6 803.8L1798.0 809.1L1787.2 798.7L1799.3 801.0L1790.3 793.5L1804.1 796.6L1794.3 788.7L1805.1 790.5L1797.7 783.7L1807.0 784.7L1799.3 777.9L1808.9 779.0L1801.1 772.1L1811.8 773.7L1801.5 765.6L1814.0 768.1L1811.8 761.7L1814.8 772.2L1817.8 757.4L1820.8 772.2L1826.4 766.7L1817.3 770.9L1829.4 772.4L1819.4 776.7L1826.8 778.8L1818.2 782.9L1828.4 784.6L1819.2 788.9L1828.9 790.6L1817.6 795.1L1831.3 796.3L1821.3 800.7L1831.2 802.4L1822.5 806.6L1834.2 808.0L1820.8 812.9L1835.1 814.0L1820.9 818.9L1835.0 820.1L1824.3 824.5L1834.9 826.1L1826.3 830.3L1835.4 832.1L1825.4 836.5L1838.6 837.7L1825.7 842.5L1835.7 844.2L1826.7 848.4L1837.6 850.0L1826.2 854.5L1840.8 855.6L1828.0 860.3L1840.7 861.7L1829.6 866.0L1839.6 868.0L1828.3 872.1L1842.5 873.7L1830.1 878.0L1843.9 879.6L1829.4 884.1L1843.4 885.7L1833.4 889.7L1845.2 891.6L1834.1 895.7L1842.2 897.9L1834.6 901.7L1842.7 903.9L1832.4 907.9L1845.1 909.7L1835.7 913.6L1844.0 915.8L1833.4 919.9L1845.1 921.7L1836.5 925.6L1848.0 927.4L1836.9 931.6L1845.2 933.8L1836.3 937.7L1848.9 939.4L1839.3 943.4L1849.0 945.4L1839.1 949.5L1850.8 951.3L1838.3 955.6L1848.9 957.5L1839.6 961.5L1848.2 963.6L1841.6 967.3L1850.8 969.4L1840.0 973.5L1849.8 975.5L1842.4 979.3L1851.8 981.3L1839.2 985.6L1850.5 987.5L1841.0 991.5L1847.6 993.0L1847.0 993.6L1849.1 1053.3L1851.2 1002.7L1853.3 1090.3L1855.4 1001.9L1857.5 1109.5L1859.5 1005.9L1861.6 1102.9L1863.7 1004.8L1865.8 1090.3L1867.9 1034.5L1870.0 1068.8L1870.4 1058.5L1883.4 993.3L1896.5 1026.0L1896.0 1002.0L1898.6 1036.1L1901.1 1004.9L1903.7 1052.6L1906.3 1004.1L1908.9 1069.9L1911.4 1007.2L1914.0 1106.4L1916.6 1014.5L1919.1 1132.8L1921.7 1027.1L1924.3 1171.9L1926.9 1047.0L1929.4 1178.0L1932.0 1028.3L1934.6 1164.8L1937.1 1018.9L1939.7 1112.1L1942.3 979.3L1944.9 1035.3L1947.4 928.7L1950.0 929.3L1949.6 895.5L1956.8 892.8L1949.6 889.5L1956.4 886.7L1947.8 883.5L1956.6 880.7L1949.6 877.5L1955.6 874.7L1948.5 871.5L1957.7 868.8L1948.9 865.5L1956.6 862.7L1949.9 859.5L1956.4 856.7L1949.1 853.5L1956.7 850.7L1949.9 847.5L1957.5 844.8L1949.8 841.5L1955.9 838.7L1951.2 835.5L1958.1 832.8L1950.3 829.5L1958.7 826.8L1952.1 823.6L1957.0 820.7L1950.9 817.5L1958.8 814.8L1952.1 811.6L1959.0 808.8L1951.6 805.5L1957.9 802.7L1950.6 799.5L1957.4 796.7L1950.4 793.6L1958.2 790.7L1952.2 787.6L1957.9 784.7L1952.0 781.6L1960.0 778.7L1952.8 775.6L1959.2 772.7L1952.3 769.6L1958.5 766.7L1953.3 763.6L1959.8 760.7L1952.6 757.6L1959.3 754.7L1952.1 751.6L1958.3 748.7L1951.6 745.6L1960.7 742.7L1953.4 739.6L1960.6 736.7L1952.1 733.6L1959.2 730.7L1953.5 727.6L1958.6 724.7L1953.2 721.6L1959.8 718.7L1953.1 715.6L1960.0 712.7L1953.0 709.6L1959.1 706.7L1954.1 703.6L1960.5 700.8L1953.5 697.6L1959.5 694.7L1954.3 691.6L1962.1 688.8L1952.9 685.5L1961.5 682.8L1954.4 679.6L1960.8 676.8L1953.5 673.6L1961.4 670.8L1953.9 667.6L1960.0 664.7L1953.8 661.6L1960.7 658.8L1955.2 655.6L1961.8 652.8L1953.5 649.6L1961.6 646.8L1954.5 643.6L1961.2 640.8L1953.8 637.6L1961.5 634.8L1955.2 631.6L1962.9 628.8L1954.9 625.6L1962.4 622.8L1955.2 619.6L1961.3 616.8L1954.4 613.6L1963.1 610.8L1955.7 607.6L1962.4 604.8L1956.3 601.6L1963.7 598.8L1956.6 595.6L1962.3 592.8L1957.5 589.6L1964.8 586.9L1957.6 583.6L1963.9 580.8L1956.3 577.6L1963.2 574.8L1956.2 571.6L1964.1 568.8L1955.9 565.6L1963.5 562.8L1957.7 559.6L1964.1 556.8L1958.3 553.6L1964.5 550.8L1958.0 547.6L1964.6 544.8L1956.9 541.6L1964.6 538.8L1959.5 535.7L1966.0 532.9L1958.6 529.6L1964.0 526.8L1957.8 523.6L1966.3 520.9L1958.3 517.6L1966.8 514.9L1959.6 511.7L1967.0 508.9L1959.5 505.7L1967.2 502.9L1957.8 499.6L1966.5 496.9L1959.7 493.7L1967.2 490.9L1959.0 487.6L1966.7 484.9L1961.1 481.7L1966.5 478.9L1959.4 475.6L1965.6 472.8L1960.4 469.7L1968.5 466.9L1959.7 463.6L1966.7 460.9L1961.6 457.7L1967.8 454.9L1960.4 451.7L1967.2 448.9L1960.8 445.7L1964.4 445.5L1964.0 456.3L1966.6 617.1L1969.1 424.4L1971.7 651.9L1974.3 397.8L1976.9 602.7L1979.4 363.5L1982.0 580.7L1984.6 338.6L1987.1 552.9L1989.7 338.6L1992.3 559.8L1994.9 354.0L1997.4 538.2L2000.0 383.5L2002.6 569.3L2005.1 400.8L2007.7 581.8L2010.3 387.7L2012.9 495.6L2015.4 379.0L2018.0 528.8L2021.1 543.2L2015.0 545.0L2022.7 546.4L2012.7 548.2L2021.7 549.6L2015.1 551.4L2022.2 552.8L2012.5 554.6L2021.9 556.0L2012.7 557.8L2024.2 559.2L2015.3 561.0L2023.7 562.4L2014.0 564.2L2023.3 565.6L2011.8 567.5L2022.0 568.8L2016.0 570.6L2025.7 571.9L2014.5 573.8L2022.6 575.2L2014.9 577.0L2023.4 578.4L2012.3 580.3L2022.9 581.6L2015.5 583.4L2024.5 584.8L2014.2 586.6L2026.1 587.9L2013.1 589.8L2023.7 591.2L2015.8 593.0L2025.8 594.3L2012.6 596.3L2022.5 597.6L2013.7 599.4L2026.1 600.7L2014.2 602.6L2023.5 604.0L2013.6 605.8L2025.7 607.1L2016.2 609.0L2025.4 610.3L2016.2 612.2L2023.0 613.6L2015.8 615.4L2024.3 616.8L2015.6 618.6L2025.7 619.9L2013.9 621.8L2027.1 623.1L2013.4 625.0L2027.3 626.3L2014.2 628.2L2024.5 629.6L2016.9 631.4L2025.9 632.7L2015.4 634.6L2026.2 635.9L2017.4 637.8L2024.2 639.2L2014.0 641.0L2026.0 642.3L2015.0 644.2L2024.0 645.6L2016.4 647.4L2027.5 648.7L2015.4 650.6L2027.9 651.9L2017.4 653.8L2025.7 655.1L2014.9 657.0L2025.8 658.3L2015.0 660.2L2026.4 661.5L2017.9 663.3L2024.5 664.8L2014.4 666.6L2024.7 668.0L2017.8 669.8L2025.6 671.2L2015.7 673.0L2027.9 674.2L2016.8 676.2L2026.5 677.5L2015.6 679.5L2025.7 680.7L2017.5 682.6L2027.3 683.8L2016.5 685.9L2025.0 687.1L2018.8 689.0L2025.5 690.3L2016.4 692.3L2028.0 693.4L2015.4 695.5L2028.4 696.6L2018.6 698.6L2028.5 699.8L2015.6 701.9L2026.9 703.1L2019.8 704.9L2027.1 706.3L2018.8 708.2L2026.4 709.5L2019.9 711.3L2026.3 712.7L2016.6 714.7L2026.1 715.9L2017.8 717.8L2026.9 719.1L2019.7 721.0L2029.6 722.2L2019.4 724.2L2027.0 725.5L2018.8 727.4L2029.3 728.6L2018.7 730.6L2030.1 731.8L2019.3 733.8L2028.8 735.0L2018.1 737.0L2028.7 738.2L2018.2 740.2L2028.8 741.4L2020.8 743.3L2027.5 744.7L2018.2 746.6L2030.2 747.8L2017.6 749.9L2030.1 751.0L2019.3 753.0L2028.1 754.3L2018.3 756.2L2028.0 757.5L2020.2 759.4L2028.2 760.7L2020.5 762.6L2029.0 763.8L2020.4 765.8L2030.8 767.0L2020.0 769.0L2029.0 770.2L2019.2 772.2L2031.2 773.4L2019.1 775.4L2028.4 776.7L2020.1 778.6L2032.1 779.7L2021.7 781.7L2029.3 783.0L2019.5 785.0L2030.1 786.2L2021.4 788.1L2032.1 789.3L2021.6 791.3L2029.7 792.6L2022.4 794.5L2030.4 795.8L2020.5 797.8L2030.6 799.0L2020.3 800.9L2029.4 802.3L2022.6 804.1L2031.9 805.4L2021.7 807.3L2031.4 808.6L2019.8 810.5L2030.6 811.9L2023.1 813.7L2029.6 815.1L2021.9 816.9L2030.8 818.3L2022.0 820.1L2029.7 821.5L2024.1 823.2L2031.3 824.6L2021.0 826.5L2031.1 827.9L2020.4 829.7L2032.3 831.0L2022.7 832.9L2033.3 834.2L2023.5 836.1L2032.6 837.4L2021.0 839.3L2032.4 840.6L2023.3 842.5L2030.6 843.9L2022.3 845.7L2031.1 847.1L2023.2 848.9L2032.7 850.2L2020.9 852.1L2033.3 853.4L2022.8 855.3L2034.2 856.6L2023.7 858.5L2032.3 859.8L2022.3 861.7L2033.1 863.0L2024.3 864.8L2032.5 866.2L2021.8 868.1L2031.9 869.4L2022.4 871.3L2031.2 872.7L2021.4 874.5L2033.9 875.8L2024.2 877.6L2035.3 879.0L2022.3 880.9L2031.5 882.3L2024.6 884.0L2033.4 885.4L2021.6 887.3L2032.0 888.6L2025.6 890.4L2032.8 891.8L2025.7 893.6L2033.3 895.0L2023.8 896.9L2033.5 898.2L2025.5 900.0L2031.8 901.5L2022.8 903.2L2033.6 904.7L2024.2 906.4L2033.8 907.9L2023.4 909.6L2035.7 911.0L2022.8 912.8L2035.0 914.2L2024.9 916.0L2032.7 917.5L2026.0 919.2L2035.6 920.6L2026.2 922.4L2034.5 923.8L2022.7 925.6L2033.5 927.1L2024.9 928.8L2034.0 930.3L2022.7 932.0L2035.1 933.4L2023.2 935.2L2032.5 936.7L2023.7 938.4L2034.3 939.9L2025.1 941.6L2035.8 943.0L2023.7 944.8L2036.3 946.2L2023.8 948.0L2036.3 949.4L2025.1 951.2L2034.9 952.6L2023.7 954.4L2034.5 955.8L2026.5 957.6L2035.1 959.0L2023.4 960.8L2036.4 962.2L2026.6 964.0L2034.4 965.5L2026.2 967.2L2034.3 968.7L2023.2 970.4L2034.7 971.8L2026.0 973.6L2034.1 975.1L2025.5 976.8L2035.8 978.2L2026.0 980.0L2033.8 981.5L2026.5 983.2L2034.2 984.7L2023.7 986.4L2033.9 987.9L2024.4 989.6L2033.7 991.1L2024.3 992.8L2034.4 994.3L2024.4 996.0L2035.1 997.4L2027.4 999.2L2033.8 1000.7L2024.4 1002.4L2035.7 1003.8L2025.8 1005.6L2034.9 1007.0L2025.0 1008.8L2035.5 1010.2L2027.7 1012.0L2036.1 1013.4L2026.7 1015.2L2037.2 1016.6L2025.7 1018.4L2036.9 1019.8L2027.6 1021.6L2036.7 1023.0L2025.6 1024.8L2037.4 1026.2L2024.5 1028.0L2036.1 1029.4L2025.8 1031.2L2037.1 1032.6L2027.2 1034.4L2036.2 1035.8L2025.1 1037.6L2036.5 1039.0L2026.1 1040.8L2037.6 1042.2L2024.4 1044.0L2035.2 1045.4L2028.2 1047.2L2036.7 1048.6L2027.9 1050.4L2038.3 1051.8L2026.6 1053.6L2036.5 1055.0L2025.2 1056.8L2038.0 1058.2L2028.1 1060.0L2036.3 1061.4L2028.0 1063.2L2036.3 1064.6L2028.3 1066.4L2038.1 1067.8L2027.4 1069.6L2036.1 1071.0L2025.2 1072.8L2038.0 1074.2L2027.6 1076.0L2036.7 1077.4L2026.3 1079.2L2035.5 1080.6L2028.5 1082.4L2038.3 1083.8L2028.5 1085.6L2037.7 1087.0L2026.1 1088.8L2037.3 1090.2L2027.8 1092.0L2038.5 1093.4L2026.0 1095.2L2035.2 1096.7L2025.6 1098.4L2037.7 1099.8L2028.2 1101.6L2035.7 1103.0L2029.1 1104.8L2038.5 1106.2L2026.0 1108.0L2036.6 1109.4L2028.8 1111.2L2035.5 1112.7L2027.9 1114.4L2036.5 1115.8L2029.5 1117.6L2036.6 1119.0L2026.3 1120.8L2035.6 1122.3L2028.1 1124.0L2037.6 1125.4L2029.2 1127.2L2035.6 1128.7L2029.6 1130.4L2036.1 1131.8L2025.9 1133.7L2039.3 1134.9L2027.1 1136.9L2039.5 1138.1L2028.8 1140.0L2036.9 1141.4L2026.7 1143.3L2038.5 1144.5L2026.5 1146.5L2037.6 1147.7L2028.8 1149.6L2039.2 1150.9L2026.9 1152.9L2037.0 1154.2L2029.6 1156.0L2036.5 1157.4L2028.5 1159.3L2040.4 1160.5L2028.6 1162.5L2037.2 1163.8L2028.2 1165.7L2039.4 1166.9L2030.7 1168.8L2040.7 1170.1L2028.5 1172.1L2039.0 1173.3L2029.9 1175.2L2037.7 1176.6L2029.5 1178.4L2038.7 1179.7L2030.6 1181.6L2040.0 1182.9L2028.9 1184.9L2041.4 1186.0L2027.8 1188.1L2039.4 1189.3L2028.9 1191.3L2039.2 1192.5L2030.2 1194.4L2040.1 1195.7L2028.0 1197.7L2038.0 1199.0L2030.3 1200.8L2039.3 1202.1L2029.0 1204.1L2042.0 1205.2L2030.5 1207.2L2038.5 1208.6L2030.1 1210.4L2040.7 1211.7L2029.8 1213.6L2041.6 1214.8L2030.8 1216.8L2040.8 1218.1L2029.7 1220.1L2038.7 1221.4L2032.0 1223.2L2041.5 1224.5L2029.0 1226.5L2042.7 1227.6L2032.0 1229.6L2043.0 1230.8L2032.2 1232.8L2040.9 1234.1L2032.8 1236.0L2041.6 1237.3L2031.9 1239.2L2042.1 1240.4L2029.6 1242.5L2039.8 1243.7L2031.0 1245.6L2041.9 1246.8L2032.8 1248.8L2039.7 1250.1L2030.1 1252.2L2042.7 1253.1L2031.6 1255.3L2040.3 1256.5L2030.6 1258.5L2041.7 1259.6L2032.6 1261.7L2042.5 1262.8L2032.8 1264.8L2044.4 1265.9L2032.9 1268.0L2043.4 1269.1L2031.8 1271.3L2044.6 1272.3L2034.5 1274.4L2042.3 1275.6L2031.3 1277.7L2043.5 1278.7L2033.9 1280.8L2044.9 1281.9L2035.1 1284.0L2042.4 1285.2L2035.5 1287.1L2044.3 1288.3L2033.9 1290.4L2042.9 1291.6L2034.3 1293.6L2042.8 1294.8L2033.3 1296.9L2045.1 1297.9L2034.8 1300.0L2045.7 1301.1L2036.4 1303.1L2044.6 1304.3L2036.1 1306.3L2042.9 1307.6L2034.6 1309.6L2042.9 1310.8L2036.7 1312.7L2043.3 1314.0L2035.6 1316.0L2046.4 1317.0L2036.2 1319.1L2043.6 1320.4L2034.3 1322.4L2046.6 1323.3L2033.6 1325.9L2043.6 1326.7L2037.3 1328.8L2045.5 1329.8L2034.1 1332.2L2046.2 1332.9L2034.8 1335.4L2045.1 1336.2L2036.7 1338.5L2047.3 1339.3L2038.0 1341.6L2046.8 1342.5L2035.7 1345.0L2048.3 1345.6L2036.5 1348.1L2048.6 1348.8L2035.5 1351.4L2047.9 1352.1L2038.9 1354.3L2046.5 1355.4L2039.9 1357.5L2049.7 1358.3L2038.0 1360.8L2048.6 1361.6L2037.0 1364.1L2049.2 1364.8L2039.2 1367.2L2049.0 1368.0L2040.8 1370.2L2047.9 1371.3L2039.9 1373.5L2050.4 1374.3L2038.8 1376.8L2049.8 1377.6L2040.2 1379.9L2049.0 1380.9L2040.5 1383.1L2048.0 1384.1L2040.8 1386.3L2051.8 1387.1L2039.1 1389.6L2049.3 1390.5L2040.7 1392.7L2051.6 1393.5L2042.2 1395.8L2050.2 1396.8L2040.8 1399.1L2049.8 1400.1L2039.7 1402.5L2049.3 1403.3L2040.1 1405.7L2052.3 1406.2L2042.4 1408.7L2051.0 1409.5L2040.7 1412.0L2053.1 1412.6L2043.8 1415.0L2051.7 1415.9L2044.5 1418.1L2053.3 1419.0L2043.4 1421.4L2052.2 1422.3L2042.5 1424.7L2052.2 1425.5L2045.2 1427.7L2054.8 1428.5L2042.3 1431.2L2055.1 1431.7L2044.0 1434.2L2055.0 1434.9L2043.0 1437.5L2052.5 1438.3L2045.6 1440.5L2054.1 1441.4L2044.1 1443.9L2054.3 1444.6L2044.2 1447.1L2054.2 1447.8L2043.7 1450.3L2055.2 1450.9L2045.5 1453.4L2056.3 1454.0L2044.8 1456.7L2056.3 1457.3L2047.6 1459.6L2056.1 1460.5L2046.4 1462.9L2054.8 1463.8L2045.6 1466.2L2056.1 1466.9L2045.5 1469.4L2056.6 1470.1L2045.6 1472.6L2058.4 1473.1L2048.3 1475.6L2058.6 1476.3L2050.2 1478.7L2056.3 1479.8L2048.0 1482.1L2057.5 1482.9L2049.0 1485.2L2059.4 1485.9L2049.0 1488.4L2053.9 1489.1L2042.3 1487.3L2062.9 1488.9L2046.3 1484.7L2063.1 1485.7L2044.7 1481.2L2066.9 1483.0L2047.6 1478.4L2062.0 1479.0L2048.4 1475.3L2061.3 1475.7L2047.0 1471.9L2068.4 1473.5L2050.6 1469.2L2067.2 1470.1L2051.1 1466.0L2068.9 1467.1L2049.1 1462.5L2065.5 1463.4L2053.3 1459.9L2064.4 1460.0L2047.6 1455.8L2065.1 1456.8L2050.1 1452.9L2068.2 1454.1L2051.8 1449.9L2069.8 1451.1L2054.6 1447.1L2070.0 1447.9L2055.5 1444.0L2067.2 1444.2L2051.6 1440.2L2067.5 1441.0L2055.9 1437.9L2070.1 1437.7L2052.6 1434.4L2066.9 1434.2L2052.7 1431.2L2071.4 1431.4L2057.8 1428.5L2071.6 1428.2L2058.1 1425.3L2071.8 1425.0L2054.1 1421.7L2070.9 1421.7L2056.2 1418.7L2074.2 1418.8L2057.7 1415.6L2072.1 1415.4L2055.8 1412.2L2069.4 1411.9L2053.3 1408.7L2070.7 1408.8L2054.4 1405.6L2073.1 1405.9L2060.3 1403.0L2072.3 1402.6L2056.5 1399.4L2073.7 1399.5L2054.5 1396.0L2070.9 1396.0L2055.4 1392.8L2077.2 1393.4L2060.5 1390.1L2075.0 1390.0L2061.6 1387.0L2075.8 1386.8L2057.3 1383.4L2074.1 1383.5L2057.0 1380.1L2074.1 1380.2L2062.5 1377.5L2076.1 1377.2L2057.9 1373.8L2075.1 1373.9L2062.0 1371.0L2078.0 1371.0L2059.1 1367.5L2074.5 1367.4L2063.0 1364.7L2078.4 1364.6L2058.9 1361.0L2075.2 1360.8L2060.1 1358.4L2079.1 1357.8L2064.5 1355.4L2079.4 1354.6L2061.5 1352.1L2075.4 1351.2L2064.2 1349.0L2076.7 1348.0L2060.2 1345.6L2076.1 1344.8L2061.3 1342.4L2081.4 1341.9L2061.6 1339.3L2080.3 1338.6L2065.0 1336.2L2082.4 1335.5L2059.1 1332.7L2081.8 1332.3L2064.4 1329.8L2080.0 1329.0L2060.9 1326.4L2076.9 1325.6L2065.5 1323.4L2082.6 1322.7L2062.6 1320.1L2082.9 1319.5L2063.7 1316.9L2083.2 1316.3L2061.8 1313.6L2078.0 1312.8L2065.4 1310.6L2083.5 1309.9L2066.5 1307.5L2083.9 1306.7L2062.8 1304.1L2083.8 1303.5L2066.2 1301.0L2077.6 1300.0L2061.0 1297.6L2081.3 1297.0L2065.9 1294.6L2081.9 1293.8L2067.0 1291.5L2082.8 1290.7L2063.7 1288.1L2082.6 1287.5L2065.7 1285.0L2081.0 1284.2L2066.8 1281.9L2078.7 1280.8L2065.0 1278.6L2080.7 1277.7L2066.1 1275.4L2079.4 1274.5L2063.5 1272.1L2082.8 1271.4L2068.5 1269.1L2082.1 1268.2L2066.2 1265.8L2085.0 1265.1L2066.9 1262.6L2081.4 1261.7L2065.8 1259.4L2085.4 1258.7L2069.7 1256.4L2086.3 1255.6L2069.4 1253.1L2079.8 1252.1L2068.2 1249.9L2084.8 1249.1L2063.9 1246.5L2082.9 1245.8L2069.5 1243.5L2082.9 1242.6L2068.3 1240.3L2084.1 1239.5L2070.0 1237.2L2085.6 1236.3L2064.8 1233.7L2082.4 1233.0L2067.8 1230.6L2087.9 1230.0L2069.6 1227.5L2080.9 1226.5L2066.5 1224.2L2084.4 1223.4L2068.5 1221.1L2083.0 1220.2L2067.3 1217.8L2087.9 1217.2L2066.2 1214.5L2084.1 1213.8L2070.7 1211.6L2085.1 1210.7L2065.4 1208.1L2085.9 1207.3L2068.1 1205.2L2086.3 1204.1L2065.8 1202.0L2089.1 1201.0L2070.9 1198.9L2087.4 1197.7L2067.4 1195.6L2085.5 1194.5L2067.6 1192.4L2083.0 1191.2L2069.3 1189.3L2083.2 1188.0L2072.6 1186.1L2086.8 1184.9L2065.8 1182.8L2085.9 1181.7L2068.2 1179.6L2086.7 1178.5L2071.4 1176.5L2084.8 1175.2L2068.6 1173.2L2086.8 1172.1L2072.8 1170.1L2086.3 1168.9L2069.3 1166.9L2087.7 1165.7L2072.4 1163.7L2089.4 1162.6L2069.5 1160.5L2088.5 1159.3L2068.1 1157.2L2085.1 1156.0L2072.2 1154.1L2085.2 1152.9L2068.2 1150.8L2085.0 1149.6L2066.9 1147.6L2088.1 1146.5L2069.3 1144.5L2086.2 1143.3L2070.4 1141.3L2089.0 1140.1L2070.4 1138.1L2089.8 1137.0L2066.9 1134.8L2087.7 1133.7L2068.0 1131.6L2084.9 1130.5L2073.1 1128.5L2086.4 1127.3L2067.7 1125.1L2084.5 1124.1L2072.4 1122.1L2090.4 1121.1L2073.1 1118.9L2085.0 1117.7L2072.8 1115.7L2086.6 1114.5L2071.0 1112.4L2088.3 1111.4L2072.2 1109.3L2091.4 1108.3L2069.8 1106.0L2090.4 1105.1L2069.6 1102.8L2088.6 1101.8L2069.7 1099.6L2090.3 1098.7L2068.6 1096.3L2090.6 1095.5L2070.2 1093.2L2092.1 1092.3L2071.5 1090.0L2086.3 1088.9L2073.8 1086.9L2092.2 1085.9L2074.5 1083.7L2091.0 1082.7L2073.4 1080.5L2088.4 1079.4L2075.8 1077.4L2089.4 1076.2L2070.0 1074.0L2091.2 1073.1L2076.0 1071.0L2090.4 1069.8L2070.4 1067.6L2088.0 1066.6L2075.4 1064.5L2087.1 1063.3L2072.3 1061.2L2087.7 1060.1L2073.8 1058.1L2093.2 1057.1L2072.3 1054.8L2090.1 1053.8L2075.0 1051.7L2091.0 1050.6L2071.3 1048.4L2089.6 1047.4L2070.9 1045.2L2086.9 1044.1L2075.8 1042.1L2091.3 1041.1L2076.2 1038.9L2093.3 1037.9L2075.1 1035.7L2093.3 1034.7L2077.3 1032.6L2088.5 1031.4L2072.2 1029.2L2090.3 1028.2L2073.0 1026.0L2088.6 1025.0L2073.3 1022.8L2093.9 1021.9L2076.8 1019.8L2093.8 1018.7L2070.8 1016.3L2092.9 1016.2L2072.5 1012.5L2091.6 1012.8L2072.3 1009.3L2093.2 1009.8L2076.9 1006.5L2093.8 1006.6L2075.6 1003.2L2094.7 1003.5L2075.0 999.9L2095.4 1000.3L2079.5 997.1L2094.7 997.0L2079.2 993.9L2089.9 993.3L2076.5 990.4L2093.1 990.5L2079.7 987.5L2094.8 987.4L2074.6 983.8L2095.2 984.2L2080.5 981.2L2095.6 981.1L2074.8 977.4L2092.3 977.5L2082.0 974.9L2093.7 974.4L2080.6 971.5L2092.4 971.1L2080.1 968.3L2094.2 968.1L2082.2 965.2L2097.7 965.2L2080.7 961.9L2097.3 961.9L2083.5 958.9L2098.6 958.9L2088.6 957.8L2088.0 958.4L2090.2 1028.4L2092.4 957.2L2094.6 1105.4L2096.8 954.5L2099.0 1123.1L2101.2 936.3L2103.4 1116.9L2105.6 944.9L2107.8 1116.0L2110.0 938.2L2112.2 1124.0L2114.4 911.0L2116.6 1068.6L2118.8 901.6L2121.0 1039.9L2123.2 850.7L2125.4 1031.9L2127.6 837.1L2129.8 1020.2L2132.0 814.7L2134.2 998.9L2136.4 785.0L2138.6 993.2L2140.9 805.6L2143.1 989.6L2145.3 777.0L2147.5 983.6L2149.7 768.8L2151.9 989.1L2154.1 774.4L2156.3 1002.7L2158.5 769.5L2160.7 1038.5L2162.9 763.1L2165.1 1045.7L2167.3 790.0L2169.5 1048.2L2171.7 791.2L2173.9 1061.8L2176.1 797.8L2178.3 1043.2L2180.5 789.9L2182.7 1043.4L2184.9 789.4L2187.1 1054.4L2189.3 792.9L2191.5 1005.6L2193.7 803.7L2195.9 1055.8L2198.1 819.8L2200.3 1091.4L2202.5 827.7L2204.7 1076.5L2206.9 864.8L2209.1 1082.9L2211.3 870.5L2213.5 1098.3L2215.7 884.4L2217.9 1091.9L2220.1 882.1L2222.3 1120.4L2224.5 899.2L2226.7 1125.7L2228.9 891.4L2231.1 1144.8L2233.3 901.3L2235.5 1125.7L2237.7 886.6L2239.9 1107.9L2242.1 873.9L2244.4 1090.5L2246.6 884.8L2248.8 1080.8L2251.0 884.6L2253.2 1085.1L2255.4 873.0L2257.6 1076.5L2259.8 869.2L2262.0 1040.3L2264.2 825.7L2266.4 1037.9L2268.6 774.6L2270.8 1098.2L2273.0 783.4L2275.2 1099.2L2277.4 787.4L2279.6 1045.3L2281.8 792.7L2284.0 1043.3L2286.2 776.4L2288.4 997.1L2290.6 774.3L2292.8 982.0L2295.0 778.0" stroke="#0000ff" stroke-width="5.0" stroke-dasharray="5.5 6" stroke-linejoin="bevel"/>
<path d="M289.0 900.0L289.0 785.0" stroke="#0000ff" stroke-width="5.0" stroke-dasharray="5.5 6" stroke-linejoin="bevel"/>
<path d="M300.0 900.0L300.0 790.0L303.0 900.0" stroke="#0000ff" stroke-width="5.0" stroke-dasharray="5.5 6" stroke-linejoin="bevel"/>
<path d="M308.0 950.0L308.0 1104.0" stroke="#0000ff" stroke-width="5.0" stroke-dasharray="5.5 6" stroke-linejoin="bevel"/>
<path d="M330.0 900.0L334.0 732.0L338.0 900.0L341.0 740.0L344.0 900.0" stroke="#0000ff" stroke-width="5.0" stroke-dasharray="5.5 6" stroke-linejoin="bevel"/>
<path d="M354.0 900.0L354.0 721.0L357.0 900.0" stroke="#0000ff" stroke-width="5.0" stroke-dasharray="5.5 6" stroke-linejoin="bevel"/>
<path d="M365.0 960.0L365.0 1164.0" stroke="#0000ff" stroke-width="5.0" stroke-dasharray="5.5 6" stroke-linejoin="bevel"/>
<path d="M1983.0 420.0L1986.0 283.0L1989.0 420.0" stroke="#0000ff" stroke-width="5.0" stroke-dasharray="5.5 6" stroke-linejoin="bevel"/>
<path d="M1978.0 430.0L1980.0 345.0L1982.0 430.0" stroke="#0000ff" stroke-width="5.0" stroke-dasharray="5.5 6" stroke-linejoin="bevel"/>
<path d="M1968.0 500.0L1970.0 430.0L1972.0 500.0" stroke="#0000ff" stroke-width="5.0" stroke-dasharray="5.5 6" stroke-linejoin="bevel"/>
<path d="M2006.0 470.0L2008.0 395.0L2010.0 470.0" stroke="#0000ff" stroke-width="5.0" stroke-dasharray="5.5 6" stroke-linejoin="bevel"/>
<path d="M2003.0 560.0L2006.0 595.0L2009.0 560.0" stroke="#0000ff" stroke-width="5.0" stroke-dasharray="5.5 6" stroke-linejoin="bevel"/>
<path d="M387.0 892.0L389.0 868.0L393.0 825.0L396.0 775.0L401.0 723.0L410.0 685.0L417.0 678.0L425.0 685.0L440.0 705.0L455.0 740.0L465.0 765.0L480.0 800.0L500.0 840.0L520.0 860.0L540.0 870.0L555.0 865.0L560.0 845.0L564.0 800.0L568.0 740.0L572.0 680.0L578.0 650.0L583.0 660.0L590.0 750.0L595.0 880.0L599.0 1035.6L606.0 1150.0L613.3 1267.8L614.0 1293.0L618.5 1315.2L622.9 1338.8L630.3 1361.1L642.2 1378.8L668.9 1386.2L691.1 1392.2L714.8 1395.1L737.0 1398.1L760.7 1398.8L782.9 1400.3L806.6 1403.3L827.3 1403.3L845.1 1401.0L864.3 1405.5L879.2 1412.6L903.0 1416.3L924.9 1420.9L948.8 1421.8L972.6 1421.8L994.5 1416.3L1016.5 1408.1L1038.5 1401.6L1062.3 1402.6L1086.1 1409.0L1108.1 1413.6L1131.9 1415.4L1155.9 1411.3L1176.7 1402.4L1200.3 1381.7L1224.0 1346.1L1235.9 1295.8L1247.7 1251.4L1259.6 1198.0L1274.4 1153.6L1298.1 1130.0L1315.8 1128.5L1339.5 1144.8L1357.3 1159.6L1381.0 1183.3L1407.6 1209.9L1431.3 1227.7L1450.0 1248.4L1460.7 1252.4L1481.5 1259.8L1505.1 1249.4L1528.8 1234.6L1546.6 1228.7L1573.3 1231.7L1594.0 1231.7L1623.6 1240.5L1647.3 1237.6L1665.0 1243.5L1682.8 1213.9L1697.6 1184.3L1709.5 1157.6L1718.4 1125.1L1724.3 1077.7L1730.2 1033.3L1740.0 988.8L1750.0 965.0L1765.6 970.0L1788.7 991.8L1801.5 1004.6L1824.6 1022.6L1850.0 1030.0L1880.0 1025.0L1910.0 1015.0L1940.0 1005.0L1955.0 1008.0L1963.0 1012.0L1978.5 1027.7L1996.4 1045.6L2009.2 1063.6L2027.2 1079.0L2040.0 1082.0L2050.0 1062.0L2060.5 1048.0L2070.8 1025.0L2081.0 1017.0L2110.0 1000.0L2150.0 995.0L2190.0 997.0L2230.0 1000.0L2295.0 1010.0" stroke="#ff0000" stroke-width="5.0" stroke-dasharray="23 22"/>
<path d="M389.0 900.0L392.0 870.0L396.0 810.0L402.0 790.0L408.0 775.0L415.0 765.0L422.0 762.0L430.0 770.0L441.0 803.0L450.0 824.0L455.0 848.0L464.0 867.0L480.0 880.0L500.0 890.0L520.0 895.0L540.0 895.0L555.0 885.0L562.0 860.0L567.0 820.0L571.0 785.0L575.0 765.0L580.0 770.0L586.0 800.0L592.0 880.0L597.0 1000.0L606.0 1150.0L613.3 1267.8L614.0 1293.0L618.5 1315.2L622.9 1338.8L630.3 1361.1L642.2 1378.8L661.4 1396.6L682.2 1407.0L704.4 1417.3L726.6 1422.5L750.3 1429.9L772.5 1432.1L794.7 1436.6L816.9 1435.1L837.7 1431.4L856.9 1435.1L873.7 1434.6L897.5 1441.0L919.5 1446.5L941.4 1450.2L965.2 1451.1L987.2 1442.9L1005.5 1427.3L1025.7 1418.1L1051.3 1417.2L1071.5 1426.4L1095.3 1435.5L1117.3 1440.1L1141.1 1439.2L1161.8 1430.5L1182.6 1411.3L1200.3 1375.7L1215.1 1355.0L1224.0 1322.4L1232.9 1272.1L1241.8 1221.7L1250.7 1171.4L1259.6 1124.0L1271.4 1091.5L1283.3 1082.6L1304.0 1082.6L1327.7 1100.3L1351.4 1127.0L1381.0 1162.5L1407.6 1195.1L1431.3 1224.7L1450.0 1245.4L1469.6 1258.3L1484.4 1259.8L1514.0 1240.5L1543.6 1222.8L1570.3 1218.3L1605.8 1215.4L1647.3 1224.2L1665.0 1219.8L1682.8 1190.2L1694.7 1151.7L1703.5 1107.3L1712.4 1059.9L1721.3 1012.5L1733.2 968.1L1740.0 953.3L1750.0 955.0L1764.4 968.7L1783.6 984.0L1799.0 1002.0L1814.4 1017.4L1834.9 1030.0L1852.8 1030.0L1880.0 1020.0L1910.0 1005.0L1940.0 995.0L1965.6 989.0L1981.0 1006.0L1996.4 1025.0L2009.2 1043.0L2025.0 1055.0L2037.4 1052.0L2047.7 1045.0L2055.4 1025.0L2065.6 1007.0L2100.0 985.0L2150.0 975.0L2200.0 972.0L2250.0 982.0L2295.0 990.0" stroke="#0000ff" stroke-width="5.0" stroke-dasharray="23 22"/>
</g>
<path d="M382.6 1604.0v-21M382.6 30.3v21M621.7 1604.0v-21M621.7 30.3v21M860.8 1604.0v-21M860.8 30.3v21M1099.9 1604.0v-21M1099.9 30.3v21M1339.0 1604.0v-21M1339.0 30.3v21M1578.1 1604.0v-21M1578.1 30.3v21M1817.2 1604.0v-21M1817.2 30.3v21M2056.3 1604.0v-21M2056.3 30.3v21M2295.4 1604.0v-21M2295.4 30.3v21M287.0 165.0h21M2295.4 165.0h-21M287.0 357.0h21M2295.4 357.0h-21M287.0 549.0h21M2295.4 549.0h-21M287.0 741.0h21M2295.4 741.0h-21M287.0 933.0h21M2295.4 933.0h-21M287.0 1125.0h21M2295.4 1125.0h-21M287.0 1317.0h21M2295.4 1317.0h-21M287.0 1509.0h21M2295.4 1509.0h-21" stroke="#333" stroke-width="3.5" fill="none"/>
<path d="M287.0 1604.0V30.3" stroke="#6a6a6a" stroke-width="4" fill="none"/>
<path d="M285.0 1604.0H2297.4" stroke="#5a5a5a" stroke-width="4" fill="none"/>
<path d="M285.0 30.3H2297.4" stroke="#2b2b2b" stroke-width="3" fill="none"/>
<path d="M2295.4 1604.0V30.3" stroke="#333" stroke-width="3" fill="none"/>
<g font-family="'Liberation Serif','Times New Roman',serif" font-size="80" fill="#262626"><text x="382.6" y="1705.5" text-anchor="middle">500</text><text x="621.7" y="1705.5" text-anchor="middle">750</text><text x="860.8" y="1705.5" text-anchor="middle">1000</text><text x="1099.9" y="1705.5" text-anchor="middle">1250</text><text x="1339.0" y="1705.5" text-anchor="middle">1500</text><text x="1578.1" y="1705.5" text-anchor="middle">1750</text><text x="1817.2" y="1705.5" text-anchor="middle">2000</text><text x="2056.3" y="1705.5" text-anchor="middle">2250</text><text x="2295.4" y="1705.5" text-anchor="middle">2500</text><text x="258" y="192.5" text-anchor="end">0.8</text><text x="258" y="384.5" text-anchor="end">0.6</text><text x="258" y="576.5" text-anchor="end">0.4</text><text x="258" y="768.5" text-anchor="end">0.2</text><text x="258" y="960.5" text-anchor="end">0</text><text x="258" y="1152.5" text-anchor="end">-0.2</text><text x="258" y="1344.5" text-anchor="end">-0.4</text><text x="258" y="1536.5" text-anchor="end">-0.6</text></g>
<text font-family="'Liberation Serif','Times New Roman',serif" font-size="88" fill="#262626" x="1291" y="1810.7" text-anchor="middle">Wavelength (nm)</text>
<text font-family="'Liberation Serif','Times New Roman',serif" font-size="88" fill="#262626" transform="translate(93.6 818.5) rotate(-90)" text-anchor="middle">Coefficients of Correlation</text>
<g><rect x="434.6" y="55.5" width="1774" height="184.4" fill="#ffffff" stroke="#333" stroke-width="2.5"/><path d="M452.5 106.0H638.4" stroke="#ff0000" stroke-width="6" fill="none" /><text font-family="'Liberation Serif','Times New Roman',serif" font-size="72" fill="#000" x="654.7" y="131.5">Vcmax_Ref</text><path d="M1040.1 106.0H1225.6" stroke="#ff0000" stroke-width="6" fill="none" stroke-dasharray="6 5.92"/><text font-family="'Liberation Serif','Times New Roman',serif" font-size="72" fill="#000" x="1239.0" y="131.5">Vcmax_Der</text><path d="M1629.8 106.0H1796.2" stroke="#ff0000" stroke-width="6" fill="none" stroke-dasharray="25.3 22.1"/><text font-family="'Liberation Serif','Times New Roman',serif" font-size="72" fill="#000" x="1830.6" y="131.5">Vcmax_psA</text><path d="M452.5 188.3H638.4" stroke="#0000ff" stroke-width="6" fill="none" /><text font-family="'Liberation Serif','Times New Roman',serif" font-size="72" fill="#000" x="654.7" y="213.8">Jmax_Ref</text><path d="M1040.1 188.3H1225.6" stroke="#0000ff" stroke-width="6" fill="none" stroke-dasharray="6 5.92"/><text font-family="'Liberation Serif','Times New Roman',serif" font-size="72" fill="#000" x="1239.0" y="213.8">Jmax_Der</text><path d="M1629.8 188.3H1796.2" stroke="#0000ff" stroke-width="6" fill="none" stroke-dasharray="25.3 22.1"/><text font-family="'Liberation Serif','Times New Roman',serif" font-size="72" fill="#000" x="1830.6" y="213.8">Jmax_psA</text></g>
</svg>
</body></html>
